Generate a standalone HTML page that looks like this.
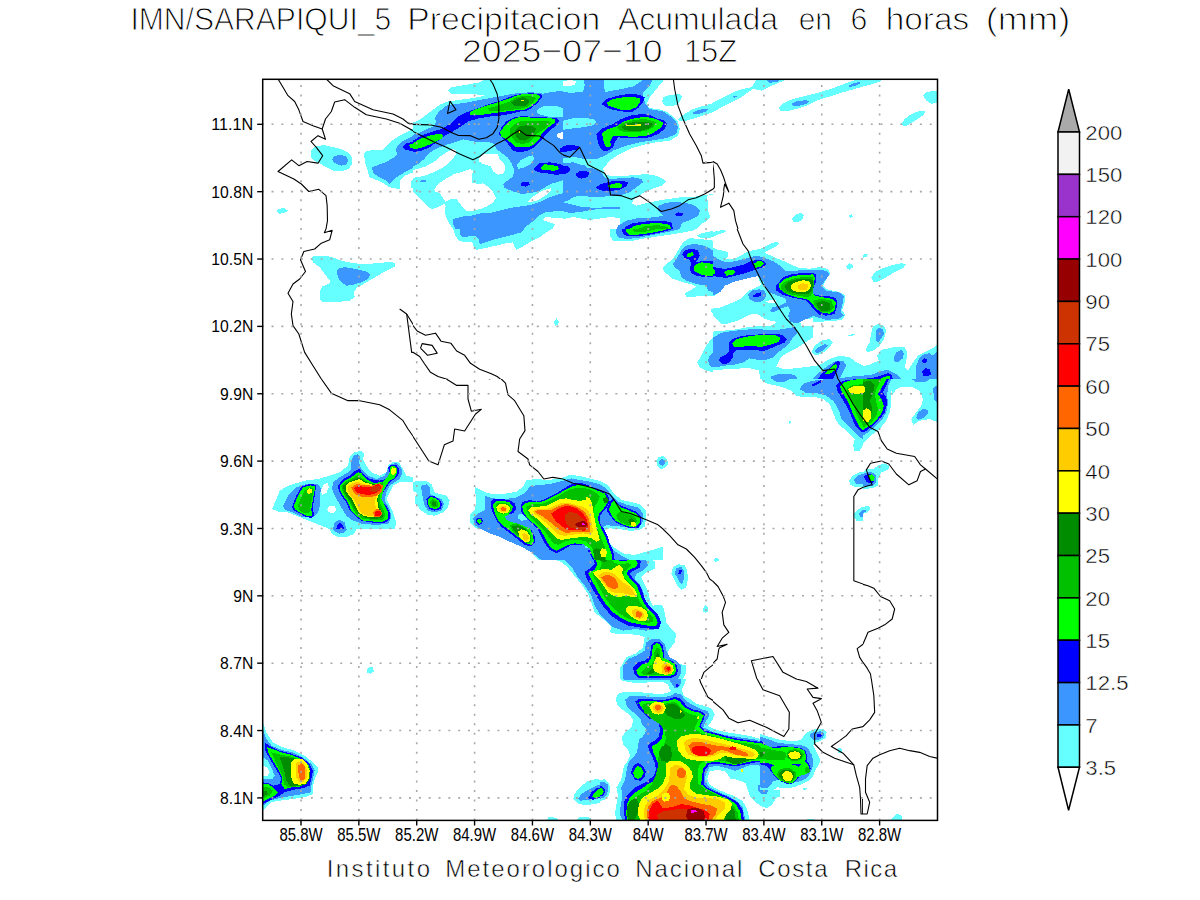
<!DOCTYPE html>
<html><head><meta charset="utf-8"><style>html,body{margin:0;padding:0;background:#fff;width:1200px;height:900px;overflow:hidden;font-family:"Liberation Sans",sans-serif}</style></head>
<body>
<svg width="1200" height="900" viewBox="0 0 1200 900" style="position:absolute;left:0;top:0">
<g font-family="Liberation Sans, sans-serif" font-size="32" fill="#000" stroke="#fff" stroke-width="1.0"><text x="130.42" y="30.3" textLength="260.84" lengthAdjust="spacingAndGlyphs">IMN/SARAPIQUI_5</text><text x="407.24" y="30.3" textLength="192.95" lengthAdjust="spacingAndGlyphs">Precipitacion</text><text x="617.94" y="30.3" textLength="160.06" lengthAdjust="spacingAndGlyphs">Acumulada</text><text x="798.73" y="30.3" textLength="33.21" lengthAdjust="spacingAndGlyphs">en</text><text x="850.46" y="30.3" textLength="16.87" lengthAdjust="spacingAndGlyphs">6</text><text x="885.68" y="30.3" textLength="83.52" lengthAdjust="spacingAndGlyphs">horas</text><text x="985.75" y="30.3" textLength="84.49" lengthAdjust="spacingAndGlyphs">(mm)</text></g>
<g font-family="Liberation Sans, sans-serif" font-size="32" fill="#000" stroke="#fff" stroke-width="1.0"><text x="461.95" y="62" textLength="200.69" lengthAdjust="spacingAndGlyphs">2025−07−10</text><text x="683.89" y="62" textLength="53.32" lengthAdjust="spacingAndGlyphs">15Z</text></g>
<g font-family="Liberation Sans, sans-serif" font-size="24" fill="#000" stroke="#fff" stroke-width="0.55"><text x="326.78" y="876.7" textLength="103.21" lengthAdjust="spacing">Instituto</text><text x="445.22" y="876.7" textLength="174.65" lengthAdjust="spacing">Meteorologico</text><text x="635.24" y="876.7" textLength="107.20" lengthAdjust="spacing">Nacional</text><text x="758.25" y="876.7" textLength="69.25" lengthAdjust="spacing">Costa</text><text x="844.64" y="876.7" textLength="52.56" lengthAdjust="spacing">Rica</text></g>
<g id="map"><clipPath id="fr"><rect x="262.7" y="79.3" width="674.8" height="741.1"/></clipPath>
<g clip-path="url(#fr)">
<defs><clipPath id="c0"><rect x="263" y="79" width="150" height="150"/></clipPath><clipPath id="c1"><rect x="413" y="79" width="150" height="150"/></clipPath><clipPath id="c2"><rect x="563" y="79" width="150" height="150"/></clipPath><clipPath id="c3"><rect x="713" y="79" width="150" height="150"/></clipPath><clipPath id="c4"><rect x="863" y="79" width="75" height="150"/></clipPath><clipPath id="c5"><rect x="263" y="229" width="150" height="150"/></clipPath><clipPath id="c6"><rect x="413" y="229" width="150" height="150"/></clipPath><clipPath id="c7"><rect x="563" y="229" width="150" height="150"/></clipPath><clipPath id="c8"><rect x="713" y="229" width="150" height="150"/></clipPath><clipPath id="c9"><rect x="863" y="229" width="75" height="150"/></clipPath><clipPath id="c10"><rect x="263" y="379" width="150" height="150"/></clipPath><clipPath id="c11"><rect x="413" y="379" width="150" height="150"/></clipPath><clipPath id="c12"><rect x="563" y="379" width="150" height="150"/></clipPath><clipPath id="c13"><rect x="713" y="379" width="150" height="150"/></clipPath><clipPath id="c14"><rect x="863" y="379" width="75" height="150"/></clipPath><clipPath id="c15"><rect x="263" y="529" width="150" height="150"/></clipPath><clipPath id="c16"><rect x="413" y="529" width="150" height="150"/></clipPath><clipPath id="c17"><rect x="563" y="529" width="150" height="150"/></clipPath><clipPath id="c18"><rect x="713" y="529" width="150" height="150"/></clipPath><clipPath id="c19"><rect x="863" y="529" width="75" height="150"/></clipPath><clipPath id="c20"><rect x="263" y="679" width="150" height="150"/></clipPath><clipPath id="c21"><rect x="413" y="679" width="150" height="150"/></clipPath><clipPath id="c22"><rect x="563" y="679" width="150" height="150"/></clipPath><clipPath id="c23"><rect x="713" y="679" width="150" height="150"/></clipPath><clipPath id="c24"><rect x="863" y="679" width="75" height="150"/></clipPath><clipPath id="c25"><rect x="463" y="460" width="200" height="100"/></clipPath><clipPath id="c26"><rect x="600" y="690" width="180" height="131"/></clipPath><clipPath id="c27"><rect x="760" y="710" width="80" height="80"/></clipPath></defs>
<g shape-rendering="crispEdges"><g clip-path="url(#c0)"><g transform="translate(263,79) scale(0.166667)"><polygon points="285,430 300,415 330,400 370,398 420,408 470,420 510,440 535,470 535,510 515,540 470,555 420,550 380,530 340,505 300,485 285,465" fill="#66ffff"/><polygon points="900,298 852,324 816,342 780,366 744,396 714,426 660,426 618,432 606,450 612,498 630,558 640,590 680,605 720,625 760,650 820,662 825,640 820,610 850,580 900,560" fill="#66ffff"/><polygon points="885,625 895,605 900,605 900,655 888,650" fill="#66ffff"/><polygon points="78,792 100,778 130,775 150,790 130,803 100,808" fill="#66ffff"/><polygon points="415,480 430,462 465,455 500,465 512,490 500,512 470,520 440,510 420,497" fill="#3c96ff"/><polygon points="654,528 690,516 738,498 780,474 804,450 798,420 810,396 840,372 876,354 900,342 900,534 852,558 804,588 768,618 756,630 732,606 696,588 660,564" fill="#3c96ff"/><polygon points="840,405 860,385 900,378 900,432 870,428 845,420" fill="#0000ff"/><polygon points="878,400 890,388 900,388 900,412 885,412" fill="#00ff00"/></g></g><g clip-path="url(#c1)"><g transform="translate(413,79) scale(0.166667)"><polygon points="0,0 900,0 900,900 0,900" fill="#66ffff"/><polygon points="0,0 440,0 400,20 300,38 230,50 212,70 230,88 300,92 380,92 430,100 360,115 280,125 210,135 160,155 120,185 80,215 40,245 0,262" fill="#ffffff"/><polygon points="0,547 75,525 128,495 165,465 200,440 240,420 262,430 255,455 240,480 203,517 150,547 98,570 38,589 0,592" fill="#ffffff"/><polygon points="128,664 150,630 195,600 248,570 300,555 345,540 360,548 353,585 356,623 390,630 420,626 450,645 480,675 499,713 480,743 443,765 405,780 360,791 323,791 300,773 278,743 263,720 225,720 195,735 180,713 165,690 135,675" fill="#ffffff"/><polygon points="0,675 22,698 52,728 75,750 98,773 120,780 158,765 188,750 195,765 191,803 203,840 225,878 240,900 0,900" fill="#ffffff"/><polygon points="398,473 420,450 510,450 518,480 548,510 555,540 540,570 510,574 480,555 465,525 420,510 398,495" fill="#ffffff"/><polygon points="690,735 720,705 780,668 825,656 832,668 795,698 750,728 705,739" fill="#ffffff"/><polygon points="0,335 48,318 84,300 120,285 140,260 132,234 156,192 180,180 200,160 260,150 330,140 420,122 500,108 580,92 650,82 720,80 780,88 820,80 900,70 900,608 825,630 788,653 750,675 713,683 653,690 600,675 548,653 540,630 570,608 600,585 608,548 593,510 570,473 540,450 500,420 490,390 450,378 400,380 350,372 300,362 250,380 200,395 160,410 120,430 90,450 68,480 30,510 0,525" fill="#3c96ff"/><polygon points="240,840 300,825 360,818 420,803 462,804 582,774 702,756 762,738 822,708 882,690 900,684 900,793 882,792 798,798 762,816 714,858 660,900 255,900 240,870" fill="#3c96ff"/><polygon points="38,612 60,606 83,610 78,620 45,621" fill="#3c96ff"/><polygon points="774,846 798,828 852,834 900,834 900,900 836,900 852,870" fill="#ffffff"/><polygon points="860,330 890,320 900,320 900,360 870,355" fill="#ffffff"/><polygon points="623,518 645,488 690,465 720,458 728,480 705,510 660,533 630,540" fill="#66ffff"/><polygon points="745,185 780,165 830,160 870,165 900,175 900,225 860,230 810,225 770,215 745,205" fill="#66ffff"/><polygon points="0,370 50,340 110,318 170,300 230,265 270,225 320,200 390,175 460,150 530,128 600,100 660,88 720,86 770,92 775,110 745,145 710,175 680,190 640,195 580,210 520,220 460,225 400,235 330,255 280,290 230,320 190,340 140,380 100,410 50,430 0,440" fill="#0000ff"/><polygon points="515,330 530,290 560,255 600,232 660,222 720,228 790,230 860,235 878,250 860,280 830,300 800,330 770,370 730,410 690,430 640,440 600,430 570,390 540,360" fill="#0000ff"/><polygon points="720,540 760,505 820,500 880,510 900,520 900,570 860,575 800,565 750,560" fill="#0000ff"/><polygon points="645,630 665,615 695,615 700,635 675,645 650,642" fill="#0000ff"/><polygon points="880,420 900,405 900,440 885,440" fill="#0000ff"/><polygon points="0,385 40,360 100,340 150,330 185,335 170,360 120,385 60,410 20,420 0,420" fill="#00ff00"/><polygon points="340,200 380,180 440,160 510,140 570,120 620,100 660,90 740,92 765,105 740,140 700,170 670,185 600,190 520,200 450,210 390,218 345,218" fill="#00ff00"/><polygon points="520,320 550,280 590,245 640,228 720,232 800,232 850,240 855,260 820,285 790,310 770,330 760,360 730,390 700,405 650,410 610,405 585,380 560,360 530,345" fill="#00ff00"/><polygon points="765,530 790,512 830,515 870,525 875,540 850,550 800,548 770,542" fill="#00ff00"/><polygon points="450,175 510,160 580,135 620,110 660,100 700,100 740,115 720,140 690,165 640,180 580,185 520,192 460,195" fill="#00c000"/><polygon points="580,300 610,270 650,252 720,250 790,250 830,258 810,280 780,305 740,330 720,360 690,385 650,390 615,380 595,350 580,325" fill="#00c000"/><polygon points="590,140 620,120 660,110 690,120 700,140 680,160 640,165 605,160" fill="#008c00"/><polygon points="610,310 640,285 680,278 720,285 740,300 720,330 700,355 670,370 640,365 620,345" fill="#008c00"/><polygon points="645,124 667,124 667,133 645,133" fill="#ffff00"/><polygon points="635,308 643,308 643,323 635,323" fill="#ffff00"/></g></g><g clip-path="url(#c2)"><g transform="translate(563,79) scale(0.166667)"><polygon points="0,0 900,0 900,900 0,900" fill="#66ffff"/><polygon points="0,15 40,5 80,12 70,35 30,45 0,40" fill="#ffffff"/><polygon points="610,0 560,60 520,110 500,150 520,175 570,180 620,195 660,225 690,255 700,300 690,340 640,370 560,380 480,395 400,420 330,455 280,490 240,540 255,575 300,585 380,580 450,575 500,570 560,580 600,600 620,615 590,640 520,665 470,690 430,720 410,745 440,760 520,740 600,725 700,710 800,705 860,695 900,690 900,0" fill="#ffffff"/><polygon points="0,840 60,828 162,846 282,828 345,835 340,900 0,900" fill="#ffffff"/><polygon points="600,110 640,95 700,90 715,110 690,150 650,165 610,160 595,135" fill="#66ffff"/><polygon points="690,240 720,215 770,185 830,165 900,145 900,200 850,215 790,235 740,250 700,255" fill="#66ffff"/><polygon points="775,205 800,190 840,180 870,178 860,195 820,208 785,212" fill="#3c96ff"/><polygon points="0,80 60,82 120,78 130,40 126,0 246,0 250,78 342,62 422,44 470,12 480,0 540,0 520,40 480,80 480,110 495,150 520,180 600,195 640,220 675,250 690,290 680,330 620,355 540,368 460,380 380,400 300,430 250,460 200,480 130,480 80,470 40,470 0,475" fill="#3c96ff"/><polygon points="0,250 60,235 120,232 180,240 205,258 175,280 100,292 30,300 0,305" fill="#66ffff"/><polygon points="0,505 60,500 110,515 150,520 200,545 230,560 250,590 290,600 350,595 420,590 470,600 480,620 440,650 400,680 340,700 250,705 150,705 100,700 60,710 30,730 0,740" fill="#3c96ff"/><polygon points="110,500 170,495 230,510 250,535 200,540 140,530" fill="#66ffff"/><polygon points="0,740 40,750 100,765 200,775 280,765 340,770 345,780 282,780 222,780 162,786 102,798 42,804 0,793" fill="#3c96ff"/><polygon points="866,700 900,695 900,900 800,900 822,876 852,858 882,828 870,786" fill="#ffffff"/><polygon points="570,762 620,742 684,738 760,748 800,765 822,790 810,822 762,846 714,864 702,900 320,900 330,880 380,850 450,835 550,830 600,820 570,790" fill="#3c96ff"/><polygon points="330,880 380,850 450,835 550,830 620,835 680,860 700,900 320,900" fill="#3c96ff"/><polygon points="230,150 260,120 330,100 400,88 460,95 490,110 480,140 450,175 420,195 360,195 300,185 260,170" fill="#0000ff"/><polygon points="200,330 230,300 300,270 350,240 400,220 470,210 520,215 560,235 610,250 625,270 610,300 570,330 520,350 460,355 380,355 330,350 310,380 300,410 270,430 240,430 215,400 205,360" fill="#0000ff"/><polygon points="0,400 40,398 100,400 95,420 40,432 0,440" fill="#0000ff"/><polygon points="0,520 30,525 45,545 30,565 0,570" fill="#0000ff"/><polygon points="75,570 100,552 140,550 160,565 145,590 110,598 85,590" fill="#0000ff"/><polygon points="195,650 230,630 290,615 350,610 390,620 380,645 340,665 280,672 220,668" fill="#0000ff"/><polygon points="670,812 690,800 720,805 715,820 690,825" fill="#0000ff"/><polygon points="370,890 420,865 500,855 600,850 650,860 660,900 370,900" fill="#0000ff"/><polygon points="265,140 300,120 360,110 420,108 460,115 460,140 440,170 400,185 350,185 300,170 270,160" fill="#00ff00"/><polygon points="230,330 260,305 320,285 360,258 420,238 480,228 530,232 570,245 605,262 590,290 555,315 510,338 450,345 390,345 340,340 300,345 280,380 260,400 245,385 240,350" fill="#00ff00"/><polygon points="250,395 260,380 280,378 290,395 280,410 260,410" fill="#00ff00"/><polygon points="270,640 300,628 340,625 360,635 345,652 300,655 275,652" fill="#00ff00"/><polygon points="400,900 430,880 500,868 580,865 640,875 650,900" fill="#00ff00"/><polygon points="320,290 360,265 420,248 480,240 520,245 560,262 540,290 500,310 440,320 380,320 340,310" fill="#00c000"/><polygon points="450,900 500,880 580,878 630,890 630,900" fill="#00c000"/><polygon points="350,290 380,268 440,255 500,255 540,270 520,295 470,310 410,312 370,305" fill="#008c00"/><polygon points="380,275 470,272 470,282 380,285" fill="#ffff00"/></g></g><g clip-path="url(#c3)"><g transform="translate(713,79) scale(0.166667)"><polygon points="0,140 60,110 120,80 180,60 230,50 250,20 270,0 450,0 400,20 330,50 290,70 240,60 210,80 170,110 110,140 50,170 0,200" fill="#66ffff"/><polygon points="395,170 420,145 480,120 560,100 640,80 720,55 800,25 860,5 900,0 900,45 850,60 780,80 700,105 620,130 560,160 500,180 440,195 405,190" fill="#66ffff"/><polygon points="475,835 500,810 530,805 545,820 535,845 505,860 478,855" fill="#66ffff"/><polygon points="810,815 835,812 838,825 825,832" fill="#66ffff"/><polygon points="120,105 140,100 145,108 125,112" fill="#3c96ff"/><polygon points="320,10 350,5 400,5 390,18 340,22" fill="#3c96ff"/><polygon points="470,150 500,135 550,128 580,130 560,150 520,160 480,160" fill="#3c96ff"/><polygon points="815,40 850,22 880,20 880,30 850,42 820,47" fill="#3c96ff"/></g></g><g clip-path="url(#c4)"><g transform="translate(863,79) scale(0.166667)"><polygon points="0,0 125,0 100,15 40,35 0,45" fill="#66ffff"/><polygon points="360,100 380,80 420,72 450,70 450,145 410,148 380,130" fill="#66ffff"/><polygon points="228,270 250,240 290,210 340,190 375,192 365,215 320,245 280,270 250,285" fill="#66ffff"/></g></g><g clip-path="url(#c5)"><g transform="translate(263,229) scale(0.166667)"><polygon points="285,175 310,160 370,160 420,170 470,190 540,205 600,210 700,205 760,195 795,205 790,225 740,250 680,285 620,320 560,355 545,380 550,410 520,430 430,440 360,440 340,420 340,380 355,345 395,330 405,315 370,270 340,230 300,200" fill="#66ffff"/><polygon points="440,250 460,232 500,230 560,240 620,255 645,275 630,300 590,320 540,335 500,340 470,320 450,290" fill="#3c96ff"/></g></g><g clip-path="url(#c6)"><g transform="translate(413,229) scale(0.166667)"><polygon points="240,0 830,0 800,20 760,50 700,80 650,110 620,125 605,100 600,80 560,85 500,100 430,115 380,125 360,100 355,75 310,80 275,70 255,40" fill="#66ffff"/><polygon points="280,0 670,0 650,20 600,35 540,50 480,65 420,85 400,90 395,60 375,40 330,45 300,50 285,35" fill="#3c96ff"/><polygon points="845,560 860,535 875,555 870,575 855,580" fill="#66ffff"/></g></g><g clip-path="url(#c7)"><g transform="translate(563,229) scale(0.166667)"><polygon points="280,0 800,0 780,10 700,25 600,40 500,55 420,70 350,75 300,70 280,40" fill="#66ffff"/><polygon points="320,0 700,0 620,20 520,40 440,55 380,60 330,50 320,25" fill="#3c96ff"/><polygon points="355,0 660,0 620,12 540,30 460,42 400,45 365,35 355,15" fill="#0000ff"/><polygon points="375,0 630,0 600,10 520,25 440,35 400,35 380,20" fill="#00ff00"/><polygon points="420,0 560,0 520,12 460,20 425,15" fill="#00c000"/><polygon points="805,40 830,25 880,15 900,12 900,50 850,55 815,50" fill="#66ffff"/><polygon points="600,230 620,210 660,180 690,130 720,80 760,55 820,60 860,65 900,70 900,400 860,400 800,405 740,405 730,385 760,370 800,345 780,335 720,320 660,300 630,275 605,255" fill="#66ffff"/><polygon points="660,210 680,180 710,130 740,100 780,90 830,95 870,110 900,130 900,380 870,370 860,340 800,330 740,310 710,290 700,250 670,230" fill="#3c96ff"/><polygon points="715,150 735,125 780,120 810,130 820,160 810,180 800,195 820,195 860,190 900,195 900,290 860,290 800,280 770,265 760,240 770,210 760,185 730,175" fill="#0000ff"/><polygon points="740,155 755,142 780,140 785,155 770,165 745,165" fill="#00ff00"/><polygon points="785,230 800,210 830,200 870,205 900,210 900,280 860,282 820,270 790,255" fill="#00ff00"/><polygon points="885,490 895,478 900,478 900,505 890,500" fill="#66ffff"/><polygon points="805,800 830,760 860,700 890,660 900,650 900,860 860,850 820,830" fill="#66ffff"/><polygon points="870,790 880,760 900,740 900,830 880,820" fill="#3c96ff"/></g></g><g clip-path="url(#c8)"><g transform="translate(713,229) scale(0.166667)"><polygon points="0,20 27,10 73,7 80,17 40,30 0,47" fill="#66ffff"/><polygon points="0,113 27,123 87,137 93,157 77,183 120,180 167,160 200,140 240,127 280,120 320,100 373,77 400,83 373,107 320,133 307,143 333,153 373,173 427,193 470,215 520,235 580,238 640,228 690,240 705,265 680,300 660,340 690,365 760,378 795,400 790,440 775,490 795,515 775,545 720,552 650,556 600,560 600,650 552,682 508,711 450,740 407,769 378,827 436,842 508,834 567,827 620,820 650,810 700,780 760,760 820,770 860,800 900,820 900,900 0,900" fill="#66ffff"/><polygon points="590,740 610,700 650,670 700,660 720,680 690,720 650,750 610,760" fill="#66ffff"/><polygon points="800,225 815,205 835,210 840,230 820,245 805,240" fill="#66ffff"/><polygon points="812,638 830,632 850,633 840,640 815,642" fill="#66ffff"/><polygon points="0,406 44,377 73,340 116,319 174,304 232,290 269,282 276,304 291,333 254,355 218,369 196,391 174,413 131,435 80,457 44,471 0,471" fill="#ffffff"/><polygon points="0,522 29,551 58,573 94,566 145,551 203,522 247,507 276,515 305,537 349,551 385,558 349,580 291,580 218,587 145,602 73,609 29,609 0,616" fill="#ffffff"/><polygon points="320,435 345,424 378,424 378,440 340,446" fill="#ffffff"/><polygon points="0,849 73,842 145,838 218,834 276,849 283,900 0,900" fill="#ffffff"/><polygon points="523,560 545,540 600,536 600,580 560,585 530,580" fill="#ffffff"/><polygon points="0,160 40,187 80,200 133,193 187,180 227,167 267,160 307,173 360,193 393,213 420,240 436,253 500,250 560,245 620,245 680,250 700,270 680,300 650,340 680,370 760,382 785,405 775,460 765,500 785,520 750,540 680,545 600,522 538,551 508,566 465,558 450,522 465,486 450,464 407,478 363,500 341,493 356,471 407,457 436,442 436,420 407,406 363,391 334,377 312,348 305,320 290,300 269,282 232,290 174,304 116,319 73,340 44,377 0,399" fill="#3c96ff"/><polygon points="211,391 232,369 276,362 305,369 320,391 312,420 291,435 254,438 218,420" fill="#3c96ff"/><polygon points="0,653 44,624 87,616 145,609 218,602 291,602 363,609 407,602 450,595 494,587 508,624 479,653 450,696 392,740 363,769 320,784 262,784 218,776 189,798 131,813 73,820 29,827 0,827" fill="#3c96ff"/><polygon points="349,885 392,871 450,867 494,878 508,900 349,900" fill="#3c96ff"/><polygon points="610,735 630,710 670,690 690,700 660,730 625,745" fill="#3c96ff"/><polygon points="600,900 640,860 690,820 740,790 780,790 800,820 780,860 760,900" fill="#3c96ff"/><polygon points="742,900 822,886 900,879 900,900" fill="#3c96ff"/><polygon points="0,227 67,240 133,227 187,213 227,193 253,187 293,187 320,207 307,227 267,240 227,253 187,267 133,280 80,293 27,287 0,280" fill="#0000ff"/><polygon points="240,400 262,385 290,380 290,400 262,410 242,408" fill="#0000ff"/><polygon points="94,682 116,660 174,642 232,635 305,631 378,627 421,638 443,660 429,682 392,696 341,718 305,733 247,725 189,725 145,725 123,747 116,776 94,805 58,813 36,791 44,769 73,755 94,740 94,711" fill="#0000ff"/><polygon points="380,340 420,290 480,270 560,262 600,265 620,275 620,310 600,360 600,390 640,400 700,405 740,415 745,460 730,510 680,520 640,515 600,480 580,450 560,430 520,420 470,410 420,395 380,370" fill="#0000ff"/><polygon points="630,900 650,870 690,840 720,810 750,790 765,800 750,840 730,880 720,900" fill="#0000ff"/><polygon points="67,260 87,247 120,245 133,255 120,275 80,280" fill="#00ff00"/><polygon points="247,207 267,193 293,193 307,207 287,227 253,233" fill="#00ff00"/><polygon points="0,240 13,247 13,267 0,273" fill="#00ff00"/><polygon points="116,682 145,660 203,646 262,638 320,637 378,638 403,653 396,675 363,689 320,700 291,707 247,704 196,704 145,711 120,704" fill="#00ff00"/><polygon points="395,330 430,300 490,280 560,275 600,272 612,290 605,330 595,380 610,400 660,410 720,420 738,440 728,490 700,508 660,505 620,480 590,440 560,420 500,410 440,390 400,360" fill="#00ff00"/><polygon points="670,870 690,845 720,820 740,810 745,830 730,850 700,870" fill="#00ff00"/><polygon points="407,340 436,315 487,297 552,286 600,290 605,330 600,380 585,400 567,409 523,402 472,395 429,380 410,362" fill="#00c000"/><polygon points="600,430 650,418 710,430 725,470 700,500 650,500 615,470" fill="#00c000"/><polygon points="429,340 450,319 494,304 538,297 581,300 600,310 595,370 567,392 523,391 479,384 443,369" fill="#008c00"/><polygon points="620,445 660,432 700,445 705,480 680,495 650,490 630,470" fill="#008c00"/><polygon points="465,340 494,319 538,308 574,311 588,333 581,362 552,377 508,377 479,369 465,355" fill="#ffff00"/><polygon points="508,340 538,326 567,330 574,348 559,366 530,369 512,359" fill="#ffcc00"/></g></g><g clip-path="url(#c9)"><g transform="translate(863,229) scale(0.166667)"><polygon points="0,160 15,148 28,150 25,165 0,172" fill="#66ffff"/><polygon points="50,290 70,260 120,235 180,215 230,205 262,210 240,235 180,265 130,295 90,315 60,315" fill="#66ffff"/><polygon points="15,725 40,680 50,620 60,585 90,568 125,580 140,610 125,660 100,700 60,730 25,740" fill="#66ffff"/><polygon points="75,660 80,610 95,592 120,600 125,630 100,670 85,682" fill="#3c96ff"/><polygon points="0,822 34,816 70,800 95,790 85,760 110,725 160,715 200,705 250,710 265,740 260,790 250,830 270,850 300,800 330,760 370,740 410,720 440,700 450,690 450,900 0,900" fill="#66ffff"/><polygon points="185,770 200,740 230,725 245,745 240,775 215,795 190,795" fill="#3c96ff"/><polygon points="320,820 340,770 370,750 400,745 420,760 440,740 450,740 450,900 320,900" fill="#3c96ff"/><polygon points="0,880 62,872 100,855 146,844 174,858 200,870 230,900 0,900" fill="#3c96ff"/><polygon points="0,900 62,893 120,875 153,865 170,872 180,900" fill="#0000ff"/><polygon points="100,900 130,888 146,879 160,885 165,900" fill="#00ff00"/><polygon points="355,790 370,775 385,785 380,805 360,805" fill="#0000ff"/><polygon points="355,855 375,835 400,840 410,870 390,885 360,880" fill="#0000ff"/></g></g><g clip-path="url(#c10)"><g transform="translate(263,379) scale(0.166667)"><polygon points="55,780 80,720 100,670 150,640 250,610 330,600 400,580 460,560 510,520 520,470 550,440 590,430 610,450 600,480 620,520 650,560 700,580 740,560 750,520 780,495 815,500 840,540 860,580 900,590 900,615 870,615 820,620 780,640 760,680 740,720 760,760 780,800 800,860 790,900 400,900 350,880 300,860 250,840 200,820 150,800 100,800" fill="#66ffff"/><polygon points="345,670 360,640 385,620 395,650 380,685 355,695" fill="#ffffff"/><polygon points="385,780 400,760 430,760 440,785 420,805 395,800" fill="#ffffff"/><polygon points="120,760 150,700 200,650 260,630 330,630 350,660 340,700 345,750 330,800 300,830 240,830 180,800 130,785" fill="#3c96ff"/><polygon points="420,620 460,590 510,560 530,540 530,490 545,460 570,450 585,470 575,500 590,540 630,580 680,600 730,580 750,540 770,510 800,505 830,530 835,570 820,600 790,620 760,640 740,680 730,730 760,780 770,830 750,870 680,875 600,870 540,850 500,820 470,770 430,700 415,660" fill="#3c96ff"/><polygon points="420,900 430,860 460,845 490,860 500,900" fill="#3c96ff"/><polygon points="175,765 200,700 230,645 280,630 320,635 310,700 300,760 305,820 290,835 250,825 210,800 180,785" fill="#0000ff"/><polygon points="450,640 480,600 520,580 560,545 580,540 600,570 640,600 700,610 740,600 760,560 750,530 770,515 800,515 815,540 815,570 790,600 760,620 720,680 700,720 740,760 760,800 760,840 740,860 700,865 640,860 590,850 550,820 520,790 500,740 470,700 455,670" fill="#0000ff"/><polygon points="440,900 450,870 465,865 480,880 490,900" fill="#0000ff"/><polygon points="185,760 210,700 240,650 285,638 315,645 300,720 290,780 295,825 260,820 210,795 190,780" fill="#00ff00"/><polygon points="210,760 230,710 250,670 285,650 305,660 290,740 280,800 250,805 220,790" fill="#00c000"/><polygon points="262,670 275,655 292,660 295,680 280,690 265,685" fill="#ffff00"/><polygon points="460,640 490,610 530,590 570,560 590,565 620,600 670,625 720,615 745,590 760,560 760,530 780,520 800,530 805,560 790,595 760,610 740,640 720,680 710,720 730,760 750,800 750,840 720,855 660,855 600,850 560,820 530,790 510,740 480,700 465,670" fill="#00ff00"/><polygon points="470,640 500,615 540,595 570,575 600,600 640,625 690,630 720,620 715,660 700,700 700,740 720,780 735,820 720,845 660,845 600,840 560,810 540,780 520,740 490,700 475,670" fill="#00c000"/><polygon points="480,640 510,620 550,600 575,590 600,610 640,630 700,635 705,665 690,710 695,760 715,800 720,830 680,840 620,835 575,810 550,780 530,740 500,700 485,670" fill="#008c00"/><polygon points="495,640 520,620 560,605 580,600 610,620 660,635 700,635 700,680 685,720 690,770 710,810 700,830 650,830 600,820 570,795 555,760 535,720 510,690 495,665" fill="#ffff00"/><polygon points="765,550 775,530 795,535 800,555 785,575 770,572" fill="#ffff00"/><polygon points="510,645 540,625 570,615 600,630 650,645 690,650 680,700 670,740 680,780 700,810 680,825 630,822 590,805 570,770 550,730 525,700 510,670" fill="#ffcc00"/><polygon points="530,650 560,630 600,635 650,640 700,625 720,640 710,680 680,700 640,710 600,710 560,695 540,675" fill="#ff6600"/><polygon points="545,655 570,640 610,648 650,650 690,630 710,645 700,670 670,690 630,695 590,690 560,680" fill="#ff0000"/><polygon points="640,660 670,640 700,640 705,660 680,680 650,680" fill="#cc3300"/><polygon points="660,800 680,780 705,785 715,810 700,830 670,828" fill="#ff6600"/><polygon points="670,805 685,790 705,795 710,815 690,825 672,820" fill="#ff0000"/></g></g><g clip-path="url(#c11)"><g transform="translate(413,379) scale(0.166667)"><polygon points="0,620 30,610 80,612 110,630 130,680 160,690 200,700 220,730 210,770 180,800 130,820 90,815 50,790 15,750 10,710 30,690 0,670" fill="#66ffff"/><polygon points="50,640 80,632 100,650 105,690 140,710 170,720 185,750 170,790 130,800 90,790 70,760 60,720 55,690 50,660" fill="#3c96ff"/><polygon points="80,720 100,700 130,705 160,725 175,750 165,780 130,790 100,780 85,750" fill="#0000ff"/><polygon points="88,725 105,710 130,712 155,730 165,755 155,775 125,780 100,770 90,750" fill="#00ff00"/><polygon points="100,735 115,720 135,725 150,745 150,765 130,772 108,762" fill="#00c000"/><polygon points="110,745 125,733 140,745 140,760 125,765" fill="#008c00"/><polygon points="370,650 400,645 450,665 500,680 550,690 600,680 650,670 680,640 700,610 750,600 800,610 850,605 900,600 900,900 360,900 340,860 350,800 390,790 420,770 430,740 410,700" fill="#66ffff"/><polygon points="430,700 460,690 500,700 560,710 600,705 650,700 690,690 720,670 740,650 800,640 850,630 900,620 900,900 380,900 365,860 370,830 400,820 440,800 450,760 440,730" fill="#3c96ff"/><polygon points="460,730 490,720 540,730 590,740 620,755 640,740 680,720 720,710 770,700 800,690 840,670 880,660 900,650 900,900 560,900 540,870 500,830 480,800 465,770" fill="#0000ff"/><polygon points="375,850 390,830 410,830 425,850 415,870 390,875" fill="#0000ff"/><polygon points="382,850 395,838 410,840 418,855 405,868 390,868" fill="#00ff00"/><polygon points="470,745 490,730 540,735 580,745 610,770 600,810 580,830 600,850 640,870 680,880 700,900 560,900 540,870 510,840 490,810 475,780" fill="#00ff00"/><polygon points="650,770 680,740 720,725 760,720 800,705 840,690 880,680 900,675 900,900 720,900 700,870 690,840 670,810 655,790" fill="#00ff00"/><polygon points="630,810 650,805 690,830 700,855 680,858 645,835" fill="#66ffff"/><polygon points="480,760 500,745 540,745 575,760 590,790 570,805 530,800 500,790" fill="#00c000"/><polygon points="495,770 515,752 545,750 575,765 585,785 560,800 525,800 505,790" fill="#ffff00"/><polygon points="510,775 525,760 550,760 570,775 565,790 540,795 520,788" fill="#ffcc00"/><polygon points="525,775 540,765 560,772 555,785 535,785" fill="#ff6600"/><polygon points="665,790 690,760 730,740 780,730 820,715 860,700 900,690 900,900 760,900 720,870 700,840 680,815" fill="#00c000"/><polygon points="680,790 700,770 740,755 790,745 830,730 870,715 900,710 900,900 790,900 760,880 730,860 700,830 690,810" fill="#ffff00"/><polygon points="700,800 730,780 780,770 830,760 870,740 900,735 900,900 820,900 790,880 750,850 720,830" fill="#ffcc00"/><polygon points="740,810 780,795 830,790 870,770 900,760 900,900 860,900 820,880 780,850 750,830" fill="#ff6600"/><polygon points="820,830 860,800 900,790 900,900 880,900 850,870 825,850" fill="#ff0000"/><polygon points="600,900 630,880 670,890 690,900" fill="#00c000"/></g></g><g clip-path="url(#c12)"><g transform="translate(563,379) scale(0.166667)"><polygon points="560,490 575,468 600,462 625,480 630,510 610,535 585,540 565,520" fill="#66ffff"/><polygon points="575,495 590,480 610,485 615,505 600,520 580,515" fill="#3c96ff"/><polygon points="0,600 30,580 60,575 100,580 150,600 200,610 250,630 280,670 310,710 340,740 380,745 410,735 440,750 470,780 490,820 490,870 480,900 0,900" fill="#66ffff"/><polygon points="0,620 40,598 80,595 120,605 170,620 230,640 265,670 300,720 330,760 370,770 410,765 440,785 465,820 475,870 470,900 0,900" fill="#3c96ff"/><polygon points="0,660 30,640 60,615 100,612 150,625 200,640 240,665 280,700 310,750 340,790 380,800 420,810 450,830 465,870 460,900 0,900" fill="#0000ff"/><polygon points="0,685 40,650 70,630 120,635 160,650 175,668 200,680 230,670 260,690 290,720 320,770 345,800 390,815 430,825 455,850 460,880 450,900 0,900" fill="#00ff00"/><polygon points="225,830 250,795 285,785 320,800 330,830 320,850 300,870 290,900 230,900" fill="#0000ff"/><polygon points="240,850 260,815 290,810 310,830 300,860 280,880 270,900 245,900" fill="#3c96ff"/><polygon points="255,870 275,850 290,860 280,885 265,890" fill="#66ffff"/><polygon points="0,720 50,680 90,660 120,690 140,720 180,730 210,710 240,720 270,750 290,790 260,790 240,800 220,830 210,900 0,900" fill="#00c000"/><polygon points="340,830 370,830 410,838 445,858 452,900 340,900" fill="#00c000"/><polygon points="180,740 210,730 240,745 250,780 230,800 210,820 200,860 200,900 170,900 170,840 180,800" fill="#008c00"/><polygon points="230,700 250,690 275,710 270,735 250,740" fill="#008c00"/><polygon points="370,850 400,840 440,855 450,880 430,895 390,890" fill="#008c00"/><polygon points="0,740 40,720 80,710 130,715 160,730 180,760 190,800 185,850 180,900 0,900" fill="#ffff00"/><polygon points="405,870 420,858 440,865 440,882 425,890 408,882" fill="#ffff00"/><polygon points="0,760 40,745 80,740 120,750 150,770 165,810 165,860 160,900 0,900" fill="#ffcc00"/><polygon points="0,780 40,770 80,770 110,790 130,830 140,880 140,900 0,900" fill="#ff6600"/><polygon points="0,800 30,790 60,800 90,820 110,850 120,900 0,900" fill="#ff0000"/><polygon points="10,820 40,810 70,830 100,855 115,900 20,900 10,860" fill="#cc3300"/><polygon points="80,860 110,850 140,860 140,880 110,885 85,880" fill="#960000"/><polygon points="118,868 128,866 130,874 120,876" fill="#ff00ff"/></g></g><g clip-path="url(#c13)"><g transform="translate(713,379) scale(0.166667)"><polygon points="290,0 900,0 900,400 880,430 850,435 840,400 850,360 820,330 790,300 760,280 740,250 720,200 700,150 660,120 600,105 540,110 500,100 470,70 420,50 380,40 330,30 300,15" fill="#66ffff"/><polygon points="355,0 460,0 430,15 380,18" fill="#3c96ff"/><polygon points="520,60 540,30 580,15 630,5 700,0 900,0 900,360 880,350 860,330 830,300 800,270 770,240 760,200 740,160 720,130 680,100 620,85 560,85" fill="#3c96ff"/><polygon points="590,35 620,20 650,5 660,15 620,35 600,45" fill="#0000ff"/><polygon points="740,40 760,20 800,5 900,0 900,320 880,310 860,290 840,250 820,200 800,160 770,110 745,70" fill="#0000ff"/><polygon points="760,45 790,20 830,5 900,0 900,310 880,290 860,250 840,210 820,160 800,120 775,80" fill="#00ff00"/><polygon points="800,60 830,40 900,30 900,280 880,250 860,210 845,160 820,110" fill="#00c000"/><polygon points="810,60 840,45 900,40 900,85 860,90 820,80" fill="#ffff00"/><polygon points="815,610 840,580 880,560 900,555 900,650 860,650 825,635" fill="#66ffff"/><polygon points="845,605 870,580 900,570 900,630 860,630" fill="#3c96ff"/><polygon points="840,820 860,790 890,770 900,765 900,850 860,850" fill="#66ffff"/><polygon points="875,810 890,790 900,785 900,825 885,825" fill="#3c96ff"/><polygon points="455,265 460,250 467,255 462,272" fill="#66ffff"/></g></g><g clip-path="url(#c14)"><g transform="translate(863,379) scale(0.166667)"><polygon points="0,0 190,0 170,40 165,100 170,150 160,200 140,250 100,300 60,330 20,370 0,390" fill="#66ffff"/><polygon points="0,0 170,0 150,40 145,100 150,150 140,200 110,250 70,290 30,320 0,340" fill="#3c96ff"/><polygon points="0,0 155,0 140,40 120,80 140,110 145,150 130,200 100,240 60,280 20,310 0,320" fill="#0000ff"/><polygon points="0,0 140,0 120,40 90,90 110,120 125,160 115,200 85,240 50,275 10,300 0,305" fill="#00ff00"/><polygon points="0,0 110,0 90,40 70,90 80,140 90,180 80,220 50,260 10,285 0,290" fill="#00c000"/><polygon points="0,20 40,10 70,40 60,90 40,130 55,170 50,210 30,240 0,250" fill="#008c00"/><polygon points="0,40 15,50 10,80 0,90" fill="#ffff00"/><polygon points="0,190 20,175 45,190 50,230 30,260 0,250" fill="#ffff00"/><polygon points="170,0 450,0 450,260 400,240 340,250 300,275 290,240 320,200 350,160 360,120 340,70 300,50 240,45 200,60 175,100 170,60" fill="#66ffff"/><polygon points="290,0 400,0 380,15 320,20" fill="#3c96ff"/><polygon points="320,230 330,200 360,180 390,185 390,210 360,235 330,245" fill="#3c96ff"/><polygon points="420,60 440,40 450,40 450,150 430,130" fill="#3c96ff"/><polygon points="0,560 20,540 60,540 90,520 130,505 160,520 150,545 110,560 90,600 90,640 60,655 0,660" fill="#66ffff"/><polygon points="0,570 25,560 55,560 80,580 80,620 60,640 0,640" fill="#3c96ff"/><polygon points="5,585 30,570 60,575 70,600 60,625 20,620" fill="#0000ff"/><polygon points="30,580 50,572 70,590 65,610 45,612" fill="#00ff00"/><polygon points="0,770 30,760 45,775 30,800 0,810" fill="#66ffff"/><polygon points="0,790 15,785 20,795 0,805" fill="#3c96ff"/></g></g><g clip-path="url(#c15)"><g transform="translate(263,529) scale(0.166667)"><polygon points="400,0 560,0 545,30 500,50 450,50 415,30" fill="#66ffff"/><polygon points="420,0 505,0 490,20 460,28 430,15" fill="#3c96ff"/><polygon points="620,845 640,825 660,830 665,855 645,868 625,862" fill="#66ffff"/></g></g><g clip-path="url(#c16)"><g transform="translate(413,529) scale(0.166667)"><polygon points="380,0 410,0 405,5 385,5" fill="#66ffff"/><polygon points="369,0 900,0 900,203 833,176 780,144 727,133 673,106 620,74 566,37 514,11 460,3" fill="#66ffff"/><polygon points="522,0 900,0 900,160 863,155 821,133 789,101 752,91 725,112 671,101 618,64 575,26" fill="#3c96ff"/><polygon points="570,0 740,0 740,50 720,90 700,100 670,90 620,50" fill="#0000ff"/><polygon points="780,0 900,0 900,155 870,140 850,100 830,60 800,40 780,20" fill="#0000ff"/><polygon points="590,0 720,0 730,40 715,80 690,88 660,70 620,35" fill="#00ff00"/><polygon points="800,0 900,0 900,140 880,120 860,80 840,50 810,30" fill="#00ff00"/><polygon points="610,0 700,0 715,40 700,70 680,75 650,55" fill="#00c000"/><polygon points="830,0 900,0 900,110 880,80 860,40" fill="#00c000"/><polygon points="630,0 690,0 705,30 695,60 670,65 645,40" fill="#ffff00"/><polygon points="870,0 900,0 900,40 885,25" fill="#ffff00"/><polygon points="665,25 685,20 700,40 690,58 670,55" fill="#ffcc00"/></g></g><g clip-path="url(#c17)"><g transform="translate(563,529) scale(0.166667)"><polygon points="0,0 240,0 270,30 300,60 330,100 360,130 420,110 450,110 480,140 520,170 555,200 550,240 500,260 470,290 490,330 510,370 520,420 540,460 575,455 600,460 610,500 620,560 650,600 680,630 670,680 640,720 620,760 640,800 700,810 740,820 740,860 720,900 340,900 345,830 380,770 440,745 480,710 490,650 470,640 400,630 330,630 280,620 290,590 240,540 190,500 170,440 150,390 110,330 60,270 20,220 0,210" fill="#66ffff"/><polygon points="300,0 460,0 450,15 400,18 330,10" fill="#66ffff"/><polygon points="650,270 660,230 690,212 730,215 745,250 750,300 740,350 710,365 685,340 665,300" fill="#66ffff"/><polygon points="840,475 855,458 870,470 870,495 855,505 842,495" fill="#66ffff"/><polygon points="670,265 680,235 710,228 725,250 725,300 715,330 700,320 685,290" fill="#3c96ff"/><polygon points="690,270 700,245 712,245 710,270" fill="#0000ff"/><polygon points="0,0 230,0 260,40 290,80 320,130 360,160 420,150 460,160 500,190 510,220 480,250 440,270 430,300 460,330 480,370 490,420 510,470 560,510 580,560 570,600 500,610 440,600 360,610 300,590 270,560 220,510 190,460 170,400 130,340 90,290 60,240 20,200 0,180" fill="#3c96ff"/><polygon points="360,820 390,780 440,760 490,730 500,680 530,660 580,660 610,690 620,730 640,770 680,790 710,820 710,860 690,900 360,900" fill="#3c96ff"/><polygon points="0,0 228,0 252,35 277,68 297,108 307,145 330,172 360,180 400,170 440,170 468,192 460,232 415,255 400,268 422,298 458,333 476,373 488,413 508,448 538,482 572,518 588,560 575,602 520,600 458,590 393,580 340,555 287,518 246,470 207,412 173,352 140,292 130,258 170,232 190,210 182,175 170,135 160,100 150,85 110,100 60,130 0,150" fill="#0000ff"/><polygon points="0,160 40,140 80,110 120,85 160,92 170,120 180,160 185,200 165,225 135,240 110,235 90,210 60,190 20,180 0,180" fill="#3c96ff"/><polygon points="130,100 150,92 165,98 158,110 140,112" fill="#66ffff"/><polygon points="420,830 450,800 490,790 520,760 530,700 550,675 580,675 600,700 605,740 610,780 650,790 680,810 690,850 680,880 650,892 450,892 428,870" fill="#0000ff"/><polygon points="0,0 215,0 240,35 265,70 285,110 295,150 320,185 360,195 400,185 435,188 450,205 435,230 395,245 380,265 405,300 440,335 458,375 470,415 492,455 525,492 555,525 568,560 558,585 520,582 460,572 400,560 350,535 300,500 260,455 222,398 190,340 160,285 150,265 190,245 205,215 195,175 185,130 175,95 150,70 110,85 60,110 0,135" fill="#00ff00"/><polygon points="305,440 325,412 360,402 385,418 365,448 335,462 310,458" fill="#0000ff"/><polygon points="315,440 330,420 360,410 375,420 360,440 335,455 318,452" fill="#3c96ff"/><polygon points="0,0 200,0 215,40 210,80 180,70 140,65 90,85 40,105 0,115" fill="#00c000"/><polygon points="215,60 245,90 270,130 285,175 310,205 350,212 390,205 410,215 390,238 365,258 362,285 392,318 425,352 442,392 458,430 480,465 512,500 540,532 540,560 500,562 440,552 385,535 330,502 285,458 245,400 212,340 185,290 178,268 215,248 232,210 220,160" fill="#00c000"/><polygon points="0,0 190,0 200,40 180,55 130,55 80,75 30,95 0,100" fill="#008c00"/><polygon points="205,110 240,100 270,140 275,180 250,200 225,190 212,150" fill="#008c00"/><polygon points="0,0 180,0 190,30 160,45 110,50 60,60 20,75 0,80" fill="#ffff00"/><polygon points="220,135 232,115 255,115 265,140 255,160 232,160" fill="#ffff00"/><polygon points="0,0 165,0 170,20 130,35 80,45 30,55 0,60" fill="#ffcc00"/><polygon points="0,0 150,0 150,15 110,28 60,38 20,45 0,48" fill="#ff6600"/><polygon points="0,0 140,0 130,15 80,25 30,35 0,38" fill="#ff0000"/><polygon points="20,0 120,0 110,12 70,20 30,22" fill="#cc3300"/><polygon points="180,260 210,245 250,240 290,245 320,225 340,215 360,235 355,265 370,300 400,330 430,360 445,390 440,410 400,405 370,400 340,410 300,400 270,380 250,350 230,320 200,290" fill="#ffff00"/><polygon points="375,480 390,465 430,460 470,470 500,490 510,520 500,550 470,555 440,545 400,520 380,500" fill="#ffff00"/><polygon points="210,280 240,260 280,260 310,270 330,290 360,320 400,345 420,370 430,395 400,395 360,385 320,385 290,375 260,345 230,310" fill="#ffcc00"/><polygon points="410,490 430,480 460,485 485,505 485,530 460,540 430,530 415,510" fill="#ffcc00"/><polygon points="230,290 260,275 290,280 315,300 330,330 330,355 300,360 270,345 250,320" fill="#ff6600"/><polygon points="435,500 450,492 470,500 475,520 460,532 440,525" fill="#ff6600"/><polygon points="440,850 470,815 510,800 530,770 540,700 560,685 580,690 595,720 600,770 640,790 670,810 680,850 665,875 640,882 460,882 445,868" fill="#00ff00"/><polygon points="470,860 500,830 530,815 545,790 550,730 565,710 580,720 585,770 600,800 640,810 660,850 650,870 620,875 480,875" fill="#00c000"/><polygon points="500,870 520,850 540,830 555,800 560,760 570,740 578,760 580,800 560,840 540,865 520,872" fill="#008c00"/><polygon points="545,800 560,770 580,770 595,790 630,800 660,820 665,850 650,870 620,875 580,870 550,855 540,830" fill="#ffff00"/><polygon points="590,820 610,805 640,815 660,840 650,870 620,875 595,860" fill="#ffcc00"/><polygon points="605,830 620,818 645,825 650,850 635,862 612,855" fill="#ff6600"/><polygon points="620,832 635,825 645,838 635,850 622,845" fill="#ff0000"/></g></g><g clip-path="url(#c18)"><g transform="translate(713,529) scale(0.166667)"><polygon points="8,180 18,170 32,175 35,190 20,198 8,192" fill="#66ffff"/></g></g><g clip-path="url(#c19)"><g transform="translate(863,529) scale(0.166667)"></g></g><g clip-path="url(#c20)"><g transform="translate(263,679) scale(0.166667)"><polygon points="0,260 20,320 60,380 120,410 190,430 250,460 300,500 330,530 330,560 310,600 300,640 300,690 250,710 180,720 100,730 50,740 20,770 0,790" fill="#66ffff"/><polygon points="0,300 15,350 50,400 110,425 180,440 240,470 290,510 310,550 300,600 290,640 290,680 240,690 180,700 100,715 40,730 0,760" fill="#3c96ff"/><polygon points="10,380 40,400 100,430 160,445 230,470 280,510 300,550 290,600 280,640 240,655 180,665 130,680 100,700 60,720 20,740 0,750 0,620 30,625 60,640 100,630 110,600 90,560 60,510 30,460 10,420" fill="#0000ff"/><polygon points="0,440 20,460 45,505 75,555 85,595 60,615 0,610" fill="#3c96ff"/><polygon points="0,470 30,490 55,540 70,580 55,600 0,600" fill="#66ffff"/><polygon points="0,520 25,530 40,560 25,585 0,580" fill="#ffffff"/><polygon points="25,410 60,420 110,440 170,455 230,480 270,510 285,550 280,600 260,630 220,645 170,650 130,660 110,630 115,590 95,550 65,500 35,450" fill="#00ff00"/><polygon points="0,630 30,630 60,650 90,680 70,700 30,720 0,735" fill="#00ff00"/><polygon points="50,440 110,455 170,465 230,490 270,520 285,560 275,610 250,635 200,645 150,650 125,630 120,590 100,545 75,495" fill="#00c000"/><polygon points="0,650 30,650 60,670 40,700 0,715" fill="#00c000"/><polygon points="100,470 150,470 200,480 250,505 280,540 280,600 260,630 210,640 160,640 140,610 130,560 115,510" fill="#008c00"/><polygon points="0,670 20,670 30,690 0,705" fill="#008c00"/><polygon points="165,500 195,478 235,480 265,510 280,550 275,600 255,628 215,635 180,625 170,590 165,545" fill="#ffff00"/><polygon points="195,510 215,495 245,505 262,540 262,590 245,615 215,615 200,590 198,550" fill="#ffcc00"/><polygon points="210,520 230,505 250,520 255,560 250,600 230,610 215,590 212,550" fill="#ff6600"/></g></g><g clip-path="url(#c21)"><g transform="translate(413,679) scale(0.166667)"><polygon points="805,850 810,830 840,828 870,840 875,850" fill="#66ffff"/></g></g><g clip-path="url(#c22)"><g transform="translate(563,679) scale(0.166667)"><polygon points="345,0 740,0 730,30 715,60 700,90 680,100 650,90 640,60 630,30 600,20 420,22 360,12" fill="#66ffff"/><polygon points="360,0 710,0 705,30 695,50 670,55 655,30 640,8 380,7" fill="#3c96ff"/><polygon points="675,40 685,28 695,40 685,52" fill="#0000ff"/><polygon points="320,120 340,90 400,75 440,80 500,90 560,100 620,100 660,95 700,90 740,110 780,150 820,165 870,175 900,200 890,240 900,250 900,850 290,850 300,800 310,760 290,735 250,735 200,748 140,758 90,748 62,720 70,688 100,650 150,612 200,600 250,608 290,625 330,600 360,565 380,520 390,470 380,420 365,370 360,330 380,300 400,260 390,220 365,180 335,160" fill="#66ffff"/><polygon points="75,850 100,830 150,825 170,840 160,850" fill="#66ffff"/><polygon points="370,120 400,100 440,100 500,110 560,115 620,110 680,105 730,125 780,160 820,180 860,190 885,215 870,255 890,275 900,278 900,850 320,850 330,800 340,740 345,700 330,680 360,640 390,600 410,550 420,500 420,450 410,400 400,350 410,310 430,270 420,230 400,190 380,160" fill="#3c96ff"/><polygon points="90,720 110,690 160,660 200,640 240,630 265,650 260,690 230,710 180,720 130,728 100,730" fill="#3c96ff"/><polygon points="430,140 460,118 520,120 580,118 640,110 690,108 730,130 770,180 820,195 850,200 870,218 855,260 875,285 900,290 900,850 360,850 365,780 380,720 400,680 410,640 405,600 405,550 420,510 450,490 485,495 510,470 515,430 520,390 550,365 585,345 598,305 585,265 545,240 485,212 450,180" fill="#0000ff"/><polygon points="150,715 170,680 200,655 235,650 255,670 250,700 220,715 180,725" fill="#0000ff"/><polygon points="175,705 190,680 215,660 240,665 245,690 220,705 190,715" fill="#00ff00"/><polygon points="460,615 480,598 510,600 518,620 500,638 470,635" fill="#3c96ff"/><polygon points="440,150 470,128 530,130 590,125 640,118 690,118 730,140 765,190 810,210 845,215 855,235 840,260 860,290 900,300 900,850 370,850 375,790 390,730 410,690 440,670 480,660 510,650 530,630 540,580 555,540 550,500 535,460 530,420 545,390 580,365 605,330 605,290 590,255 540,228 490,200 460,180" fill="#00ff00"/><polygon points="420,560 430,525 455,508 480,520 492,550 485,580 462,600 440,598 422,582" fill="#00ff00"/><polygon points="435,560 445,535 462,525 478,540 480,565 465,585 445,585" fill="#00c000"/><polygon points="480,160 520,145 590,140 640,135 690,135 720,155 750,200 790,225 820,235 810,260 820,290 860,310 900,320 900,850 390,850 395,800 410,745 430,710 470,690 510,680 545,660 560,620 575,570 580,520 565,470 560,430 580,400 610,370 630,330 625,285 600,245 550,215 505,190" fill="#00c000"/><polygon points="600,160 640,150 690,150 720,175 740,210 720,240 680,250 640,240 610,210" fill="#008c00"/><polygon points="560,430 590,400 620,370 650,340 690,320 720,330 720,380 700,420 660,450 610,470 575,470" fill="#008c00"/><polygon points="380,800 395,750 420,720 460,705 480,720 470,760 450,800 440,850 385,850" fill="#008c00"/><polygon points="810,530 825,520 842,530 835,545 815,545" fill="#0000ff"/><polygon points="860,600 870,560 900,540 900,650 870,640" fill="#0000ff"/><polygon points="875,600 885,570 900,560 900,630 880,625" fill="#3c96ff"/><polygon points="520,170 540,145 575,138 605,150 615,175 600,205 570,215 535,205" fill="#ffff00"/><polygon points="680,380 700,350 740,330 800,325 860,320 900,320 900,500 860,500 820,490 780,480 740,460 710,430" fill="#ffff00"/><polygon points="450,850 460,790 480,740 510,700 560,680 600,670 640,650 640,600 620,560 620,510 640,490 690,490 730,510 770,540 790,570 780,610 770,650 790,700 830,720 870,700 900,690 900,850" fill="#ffff00"/><polygon points="700,190 710,180 715,195 705,205" fill="#ffff00"/><polygon points="800,230 820,225 825,240 805,245" fill="#ffff00"/><polygon points="530,170 550,150 575,148 598,160 600,185 585,205 560,208 538,195" fill="#ffcc00"/><polygon points="730,380 760,360 820,350 880,345 900,345 900,480 860,478 810,465 770,445 745,420" fill="#ffcc00"/><polygon points="470,850 490,790 520,740 570,710 620,700 660,690 670,650 660,600 650,560 660,530 700,520 740,540 760,570 750,610 750,660 780,720 830,740 880,720 900,715 900,850" fill="#ffcc00"/><polygon points="548,168 565,158 582,165 585,180 570,192 552,185" fill="#ff6600"/><polygon points="760,400 790,380 840,370 900,365 900,460 850,460 800,445 775,425" fill="#ff6600"/><polygon points="490,850 505,790 540,750 590,730 640,730 690,720 720,680 700,640 680,600 690,560 720,550 745,570 740,620 740,680 770,740 830,760 880,745 900,740 900,850" fill="#ff6600"/><polygon points="595,710 615,695 640,700 645,725 630,745 605,745 595,730" fill="#ffff00"/><polygon points="780,420 810,395 850,390 880,400 880,440 850,455 810,450" fill="#ff0000"/><polygon points="500,850 515,790 550,760 600,755 650,762 700,770 750,780 800,790 850,790 900,780 900,850" fill="#ff0000"/><polygon points="560,810 600,790 650,790 700,800 740,790 800,800 850,810 880,830 880,850 560,850" fill="#cc3300"/><polygon points="740,790 780,780 820,790 840,810 820,830 780,830 750,815" fill="#960000"/><polygon points="770,792 800,788 805,800 775,802" fill="#ff00ff"/></g></g><g clip-path="url(#c23)"><g transform="translate(713,679) scale(0.166667)"><polygon points="0,210 20,260 60,300 120,305 180,305 250,320 300,340 360,360 420,380 480,390 530,380 545,350 580,320 620,310 660,305 680,320 670,350 630,380 620,420 630,470 640,510 620,530 600,570 580,610 540,640 480,650 400,640 350,660 320,700 270,690 230,650 180,610 120,600 60,580 0,570" fill="#66ffff"/><polygon points="540,660 550,650 560,660 550,670" fill="#66ffff"/><polygon points="750,430 765,415 778,425 770,445 755,445" fill="#66ffff"/><polygon points="0,195 8,190 10,210 0,215" fill="#66ffff"/><polygon points="560,850 570,840 605,840 610,850" fill="#66ffff"/><polygon points="0,240 25,285 60,315 130,320 200,320 260,335 320,360 370,380 430,395 490,400 540,410 580,430 600,470 610,510 600,545 580,580 540,610 480,630 400,620 340,600 300,580 260,560 200,590 150,580 100,570 40,560 0,555" fill="#3c96ff"/><polygon points="580,340 600,318 640,310 675,320 680,345 660,370 620,375 590,365" fill="#3c96ff"/><polygon points="265,650 280,630 310,635 340,655 345,680 320,690 285,680" fill="#3c96ff"/><polygon points="0,265 30,305 60,325 130,330 200,335 260,350 310,375 370,395 430,405 490,410 540,420 570,450 580,490 590,530 580,560 560,580 520,600 480,615 430,610 390,590 350,560 320,540 290,515 260,510 220,530 200,560 180,580 130,570 80,560 30,550 0,545" fill="#0000ff"/><polygon points="615,330 635,320 655,330 650,345 625,348" fill="#0000ff"/><polygon points="0,290 30,320 60,335 130,340 200,345 260,360 300,385 350,405 410,415 470,420 530,428 560,460 570,500 580,535 570,565 540,580 500,600 460,605 420,595 390,570 350,540 340,515 300,500 260,500 220,515 195,545 175,565 130,560 80,550 30,540 0,535" fill="#00ff00"/><polygon points="320,510 340,500 370,510 350,525" fill="#0000ff"/><polygon points="470,515 500,510 530,515 510,530" fill="#0000ff"/><polygon points="0,340 60,345 130,350 200,355 250,370 280,395 310,420 330,450 300,480 250,490 210,500 190,530 170,550 130,545 80,535 30,520 0,515" fill="#00c000"/><polygon points="390,560 400,540 440,530 480,540 500,565 490,600 460,610 420,600" fill="#00c000"/><polygon points="540,535 560,520 580,530 575,555 555,560" fill="#00c000"/><polygon points="0,360 40,350 80,355 100,380 120,420 150,440 190,440 220,450 240,470 220,500 200,520 180,545 160,545 120,530 80,520 40,500 0,490" fill="#008c00"/><polygon points="400,570 415,545 450,538 480,550 490,580 470,605 435,608 410,595" fill="#008c00"/><polygon points="0,355 50,350 100,355 150,370 200,385 240,400 265,430 270,460 240,475 200,480 160,470 120,460 80,470 40,480 0,490" fill="#ffff00"/><polygon points="450,455 470,435 505,435 525,455 515,478 490,485 460,478" fill="#ffff00"/><polygon points="415,580 425,560 450,552 475,565 480,590 460,610 435,610 418,598" fill="#ffff00"/><polygon points="170,548 180,542 185,555" fill="#ffff00"/><polygon points="0,360 50,358 100,365 150,380 200,395 230,415 245,440 235,460 200,465 160,460 120,445 80,440 40,450 0,455" fill="#ffcc00"/><polygon points="0,365 50,365 100,375 150,390 190,405 215,425 225,450 200,455 160,450 120,430 80,420 40,420 0,425" fill="#ff6600"/><polygon points="95,405 115,398 135,410 130,425 105,425" fill="#ff0000"/><polygon points="0,620 60,640 120,660 170,690 210,730 220,780 210,830 200,850 0,850" fill="#66ffff"/><polygon points="0,630 60,650 120,672 165,705 200,745 205,800 195,850 0,850" fill="#3c96ff"/><polygon points="0,640 60,660 110,680 160,715 185,760 190,810 175,850 0,850" fill="#0000ff"/><polygon points="0,650 60,670 110,695 150,730 175,775 175,820 160,850 0,850" fill="#00ff00"/><polygon points="0,670 50,690 100,715 130,745 150,785 150,830 140,850 0,850" fill="#00c000"/><polygon points="60,720 100,730 130,770 130,820 110,850 60,850 70,800 80,760" fill="#008c00"/><polygon points="0,680 40,690 80,705 110,725 100,760 70,780 60,820 50,850 0,850" fill="#ffff00"/><polygon points="0,700 40,705 70,720 80,745 60,760 40,775 30,800 0,810" fill="#ffcc00"/><polygon points="0,745 30,750 50,775 45,815 30,850 0,850" fill="#ff6600"/><polygon points="0,780 20,785 30,810 25,850 0,850" fill="#ff0000"/></g></g><g clip-path="url(#c24)"><g transform="translate(863,679) scale(0.166667)"><polygon points="165,850 185,825 205,810 225,815 235,830 230,850" fill="#66ffff"/></g></g><g clip-path="url(#c25)"><g transform="translate(463,460) scale(0.166667)"><polygon points="0,0 1200,0 1200,600 0,600" fill="#ffffff"/><polygon points="1160,4 1175,-18 1200,-24 1225,-6 1230,24 1210,49 1185,54 1165,34" fill="#66ffff"/><polygon points="1175,9 1190,-6 1210,-1 1215,19 1200,34 1180,29" fill="#3c96ff"/><polygon points="40,330 70,300 80,250 70,160 110,180 150,200 200,205 270,200 320,190 360,160 380,120 440,115 520,120 600,105 640,90 700,95 760,110 820,125 870,150 900,195 950,240 1000,250 1060,265 1095,300 1100,350 1090,400 1060,420 1000,425 940,415 880,410 850,420 860,470 900,520 960,560 1030,570 1100,550 1200,520 1200,600 450,600 400,540 330,500 260,470 200,430 130,420 80,410 45,380" fill="#66ffff"/><polygon points="60,350 90,320 130,300 130,260 130,215 180,230 250,235 320,225 370,200 400,160 450,150 520,145 600,125 650,110 700,120 760,130 820,145 860,170 890,210 930,250 990,270 1050,285 1080,320 1080,370 1060,400 1020,410 950,400 900,395 860,390 830,410 830,450 850,490 900,540 960,580 1000,600 470,600 420,560 350,520 280,490 220,460 160,440 100,410 70,390" fill="#3c96ff"/><polygon points="330,330 360,320 390,340 380,360 350,365 330,350" fill="#66ffff"/><polygon points="165,250 180,235 230,235 280,240 310,260 320,290 300,320 260,330 240,345 260,370 300,385 360,400 410,420 430,460 430,500 410,520 370,510 320,470 270,430 230,400 200,360 180,320 170,290" fill="#0000ff"/><polygon points="345,270 360,250 400,240 440,250 480,240 520,220 560,200 600,175 640,150 680,135 720,140 760,155 800,175 840,190 870,210 880,250 860,290 840,310 820,340 820,380 850,420 870,460 880,500 900,540 910,600 780,600 760,560 740,530 700,510 650,510 600,540 560,560 520,540 490,500 470,460 450,420 420,390 400,370 380,350 360,330 345,300" fill="#0000ff"/><polygon points="880,250 900,230 940,270 990,290 1040,310 1070,340 1070,380 1050,410 1000,410 950,390 910,370 880,330 860,300" fill="#0000ff"/><polygon points="75,365 90,345 110,345 120,365 110,385 90,390" fill="#0000ff"/><polygon points="690,520 720,505 770,505 790,520 770,540 720,540" fill="#3c96ff"/><polygon points="730,515 750,508 775,512 760,528 735,528" fill="#66ffff"/><polygon points="180,265 200,245 240,245 280,255 300,280 290,310 270,330 250,340 260,360 300,375 350,390 400,410 420,450 425,490 410,510 380,500 340,470 290,430 250,400 215,370 195,330 185,300" fill="#00ff00"/><polygon points="355,280 370,260 410,250 450,255 490,245 530,225 570,205 610,180 650,160 690,150 730,152 770,165 810,185 850,200 865,230 860,270 840,295 815,320 810,360 830,410 850,450 865,490 880,530 895,580 895,600 790,600 770,560 760,530 720,505 670,500 630,510 590,530 560,545 530,530 505,495 485,455 465,420 440,395 410,370 385,345 365,320" fill="#00ff00"/><polygon points="890,260 905,245 945,285 990,300 1035,320 1060,345 1060,375 1040,400 1000,400 955,385 915,365 890,330 875,300" fill="#00ff00"/><polygon points="85,365 95,352 108,355 112,370 100,382 88,378" fill="#00ff00"/><polygon points="195,270 215,255 250,255 280,270 290,290 275,315 240,325 210,315 195,295" fill="#00c000"/><polygon points="280,390 320,380 360,400 395,425 410,465 405,495 380,495 340,465 300,430" fill="#00c000"/><polygon points="380,285 400,268 440,265 480,262 520,245 560,225 600,200 640,178 690,165 730,168 770,180 800,200 820,220 810,250 790,280 780,320 790,370 810,420 830,470 850,520 860,570 855,600 810,600 790,560 770,520 740,490 700,480 650,480 610,490 570,510 545,500 520,470 500,440 470,405 440,375 410,350 390,320" fill="#00c000"/><polygon points="920,330 940,310 990,320 1030,340 1045,365 1030,390 990,392 950,375 925,355" fill="#00c000"/><polygon points="290,400 330,392 370,410 395,440 400,480 380,485 345,460 310,430" fill="#008c00"/><polygon points="840,230 860,220 875,240 865,260 845,258" fill="#008c00"/><polygon points="990,360 1010,350 1030,365 1030,385 1005,390" fill="#008c00"/><polygon points="780,540 800,530 840,540 855,580 850,600 790,600" fill="#008c00"/><polygon points="200,285 215,265 245,262 275,275 285,295 270,315 240,322 210,312" fill="#ffff00"/><polygon points="330,430 350,415 380,425 400,450 405,480 390,495 365,490 340,465" fill="#ffff00"/><polygon points="390,300 410,285 450,280 500,275 540,255 580,235 620,230 660,240 700,245 740,240 740,220 760,230 775,260 780,300 790,350 800,400 810,440 820,480 800,490 770,470 730,460 690,465 650,470 620,475 590,480 560,470 530,440 500,410 470,380 440,350 410,330" fill="#ffff00"/><polygon points="1005,380 1015,370 1035,375 1040,390 1025,400 1010,395" fill="#ffff00"/><polygon points="820,550 835,530 855,535 865,555 855,580 830,580" fill="#ffff00"/><polygon points="215,290 230,275 255,278 268,295 255,310 232,312" fill="#ffcc00"/><polygon points="355,445 370,438 388,450 395,470 385,485 365,478" fill="#ffcc00"/><polygon points="420,305 440,295 480,295 520,290 560,270 600,255 640,258 680,270 720,280 750,300 765,340 775,390 780,430 760,445 720,440 680,445 640,450 610,455 580,450 550,430 520,400 490,370 460,345 430,325" fill="#ffcc00"/><polygon points="225,292 240,282 258,290 255,305 238,308" fill="#ff6600"/><polygon points="430,310 450,300 490,300 530,300 570,280 610,265 650,268 690,285 730,310 755,350 765,400 760,430 720,430 680,430 640,435 610,435 580,420 550,395 520,370 480,340 450,325" fill="#ff6600"/><polygon points="530,320 560,300 600,280 640,275 680,290 720,320 745,360 750,410 730,425 690,420 650,420 620,415 590,395 560,370 540,345" fill="#ff0000"/><polygon points="610,330 640,310 680,320 710,345 740,370 745,405 720,420 680,415 640,405 620,380 612,355" fill="#cc3300"/><polygon points="670,385 700,370 730,365 745,380 740,400 715,405 685,400" fill="#960000"/><polygon points="715,380 728,378 730,388 717,389" fill="#ff00ff"/></g></g><g clip-path="url(#c26)"><g transform="translate(600,690) scale(0.150000)"><polygon points="0,0 1200,0 1200,873 0,873" fill="#ffffff"/><polygon points="113,40 133,20 167,10 220,10 260,15 330,20 400,30 460,15 480,0 545,0 560,40 600,60 640,90 690,105 740,120 765,160 750,200 720,240 760,260 830,280 900,290 960,300 1010,310 1080,330 1140,340 1200,345 1200,873 110,873 100,820 110,760 120,700 110,650 140,600 147,567 160,507 180,480 200,440 187,400 153,360 147,313 167,280 213,247 220,200 200,167 153,133 113,100 107,53" fill="#66ffff"/><polygon points="715,590 730,545 780,530 840,545 870,590 920,600 970,620 1001,711 1033,742 1063,768 1095,783 1115,786 1147,763 1167,732 1178,716 1200,712 1200,873 1000,873 980,790 950,740 900,710 850,690 780,660 730,630" fill="#ffffff"/><polygon points="0,600 30,595 60,620 70,660 60,700 30,730 0,740" fill="#66ffff"/><polygon points="1030,640 1060,610 1110,615 1140,650 1130,700 1080,705 1040,680" fill="#66ffff"/><polygon points="1050,640 1070,625 1105,630 1125,660 1110,690 1075,690 1055,670" fill="#3c96ff"/><polygon points="160,70 200,40 260,40 330,45 400,50 470,40 500,20 540,30 570,70 620,100 680,130 720,140 730,170 700,220 690,250 750,280 830,300 900,310 960,320 1030,330 1100,350 1200,360 1200,560 1150,540 1100,520 1050,500 1000,500 950,520 900,540 840,520 780,505 730,515 705,560 700,610 730,650 790,680 860,710 910,740 950,780 970,873 150,873 130,820 140,760 150,700 140,650 167,600 173,567 180,520 193,480 220,453 247,413 253,373 260,333 287,307 313,267 280,227 267,187 220,147 180,107 167,67" fill="#3c96ff"/><polygon points="0,610 25,610 50,630 55,665 45,700 20,720 0,725" fill="#3c96ff"/><polygon points="230,80 260,60 330,60 400,70 460,60 500,45 540,60 580,110 620,130 670,140 700,160 690,200 670,240 700,270 780,290 850,310 920,325 990,335 1060,345 1130,365 1200,370 1200,490 1150,490 1100,480 1050,480 1000,490 950,500 900,510 840,500 780,490 730,495 700,530 690,580 690,630 730,660 800,690 870,720 920,750 950,800 960,873 170,873 160,820 160,750 180,700 220,660 270,630 320,605 340,587 360,567 373,533 367,493 353,453 333,413 320,373 333,353 373,333 393,307 400,267 393,227 373,200 333,193 293,160 253,113 233,73" fill="#0000ff"/><polygon points="205,550 220,510 250,485 280,500 305,540 300,580 270,605 235,600" fill="#0000ff"/><polygon points="0,640 20,645 35,670 25,700 0,710" fill="#0000ff"/><polygon points="220,550 235,520 255,505 275,520 290,550 280,580 255,592 232,585" fill="#00ff00"/><polygon points="0,650 15,655 25,675 15,695 0,700" fill="#00ff00"/><polygon points="250,90 280,70 340,70 400,80 460,70 500,60 530,75 570,120 610,140 660,150 690,170 675,210 660,245 700,280 780,300 850,320 920,335 990,345 1060,355 1130,375 1200,380 1200,480 1140,478 1090,470 1040,470 990,480 945,490 900,500 840,490 780,480 720,485 690,520 680,570 675,630 720,665 790,700 860,730 905,760 935,810 945,873 180,873 175,820 180,760 200,715 240,680 290,650 330,620 373,600 387,567 393,533 387,493 373,453 353,413 347,373 373,360 407,333 420,293 420,253 400,213 360,200 313,167 280,120 253,80" fill="#00ff00"/><polygon points="280,100 320,85 380,90 440,90 490,80 520,95 560,140 600,160 640,170 660,190 640,230 630,260 680,290 760,310 830,330 900,345 970,355 1040,365 1110,385 1200,395 1200,470 1100,460 1000,465 940,480 880,485 820,475 760,465 700,470 660,500 650,560 650,620 700,660 780,700 850,740 890,770 920,820 925,873 200,873 195,820 200,770 220,730 260,700 310,670 345,630 370,570 385,510 390,450 400,400 425,370 440,320 430,270 400,230 340,190 295,150" fill="#00c000"/><polygon points="420,110 470,90 510,100 550,140 570,170 540,190 490,190 450,170 430,140" fill="#008c00"/><polygon points="390,420 410,380 440,360 470,380 480,430 470,470 440,480 410,470" fill="#008c00"/><polygon points="830,420 870,400 930,410 1000,420 1050,430 1040,460 990,470 930,490 880,490 840,470" fill="#008c00"/><polygon points="180,780 200,740 240,720 260,760 250,820 230,873 185,873" fill="#008c00"/><polygon points="830,760 870,770 900,810 905,873 840,873 825,820" fill="#008c00"/><polygon points="330,110 350,85 390,78 425,90 440,120 425,155 390,165 350,155" fill="#ffff00"/><polygon points="510,340 540,310 600,295 660,295 720,305 790,320 860,340 930,360 990,380 1040,400 1060,430 1040,460 990,460 930,450 880,450 830,440 800,460 760,470 700,470 640,470 580,460 550,440 520,400" fill="#ffff00"/><polygon points="440,490 470,470 530,470 580,500 610,540 620,580 600,620 600,660 640,690 700,700 780,710 850,730 880,760 870,800 840,830 820,873 270,873 250,820 260,760 280,720 330,690 380,660 420,620 440,570 440,520" fill="#ffff00"/><polygon points="530,135 540,128 545,145 535,152" fill="#ffff00"/><polygon points="645,180 660,175 662,190 648,192" fill="#ffff00"/><polygon points="940,530 950,525 955,545 942,545" fill="#ffff00"/><polygon points="350,110 365,95 395,92 418,105 425,125 410,148 385,152 360,142" fill="#ffcc00"/><polygon points="560,350 590,325 640,320 700,330 760,345 830,360 900,380 960,395 1010,410 1030,430 1010,450 960,445 900,435 850,420 800,420 760,440 700,450 640,445 590,430 570,400" fill="#ffcc00"/><polygon points="470,520 500,500 540,505 570,535 580,580 570,620 560,660 590,700 650,720 720,720 790,730 830,750 830,790 800,820 760,873 300,873 290,820 300,770 330,730 390,700 430,660 460,610 465,560" fill="#ffcc00"/><polygon points="365,110 380,100 400,103 410,118 400,135 380,138 368,128" fill="#ff6600"/><polygon points="590,370 620,345 670,345 720,360 770,370 820,375 870,385 930,400 980,420 990,440 960,440 900,430 850,410 810,400 780,410 750,430 700,440 650,440 610,420" fill="#ff6600"/><polygon points="510,540 530,520 560,525 575,550 565,580 540,590 515,575" fill="#ff6600"/><polygon points="460,650 480,630 510,640 540,680 560,720 600,740 680,760 740,770 780,790 770,830 740,873 320,873 310,820 320,780 350,740 400,720 440,700" fill="#ff6600"/><polygon points="410,700 430,685 460,690 470,715 455,740 425,745 410,725" fill="#ffff00"/><polygon points="610,390 640,370 680,370 720,385 740,405 730,430 700,440 660,440 620,425" fill="#ff0000"/><polygon points="860,385 880,375 905,380 910,395 890,400 865,398" fill="#ff0000"/><polygon points="320,873 330,800 350,760 380,740 400,760 420,790 480,780 540,760 600,770 660,790 700,800 730,830 720,873" fill="#ff0000"/><polygon points="380,830 420,810 480,800 540,790 600,800 640,820 660,850 650,873 390,873" fill="#cc3300"/><polygon points="580,800 620,785 660,790 690,810 700,840 690,873 590,873 575,840" fill="#960000"/><polygon points="605,800 640,798 645,815 610,818" fill="#ff00ff"/></g></g><g clip-path="url(#c27)"><g transform="translate(760,710) scale(0.088889)"><polygon points="0,0 900,0 900,900 0,900" fill="#ffffff"/><polygon points="0,270 100,300 200,330 300,345 400,350 470,330 500,280 550,240 620,215 710,215 750,250 740,310 700,340 620,370 600,400 640,480 680,560 660,620 620,680 600,740 560,790 500,820 430,850 380,870 300,880 200,870 150,900 0,900" fill="#66ffff"/><polygon points="480,900 485,880 505,870 525,880 520,900" fill="#66ffff"/><polygon points="870,440 890,425 900,425 900,490 880,480" fill="#66ffff"/><polygon points="0,300 100,330 200,370 300,380 400,390 480,400 540,430 580,500 600,580 590,650 560,720 520,770 460,800 400,810 300,800 200,790 150,800 120,840 100,870 60,880 0,870" fill="#3c96ff"/><polygon points="555,280 600,250 680,240 720,260 710,310 650,340 590,330" fill="#3c96ff"/><polygon points="0,340 50,380 100,420 200,410 300,410 400,415 470,430 510,460 530,520 530,580 560,620 570,660 550,700 510,720 450,740 400,800 360,830 300,830 230,800 180,760 120,690 90,640 50,620 0,610" fill="#0000ff"/><polygon points="640,270 680,265 700,285 680,300 645,300" fill="#0000ff"/><polygon points="0,370 80,400 150,430 250,420 350,420 440,425 500,460 520,520 510,580 550,630 560,680 530,720 480,730 420,760 380,810 330,830 270,810 220,790 180,750 140,700 120,650 160,620 100,600 50,600 0,590" fill="#00ff00"/><polygon points="350,610 400,605 470,610 440,640 410,625" fill="#0000ff"/><polygon points="0,420 100,440 200,460 280,470 300,520 280,560 200,560 100,560 0,550" fill="#00c000"/><polygon points="300,490 330,450 400,440 460,460 490,500 470,550 420,570 350,570 310,540" fill="#00c000"/><polygon points="190,720 220,670 280,650 350,660 400,700 400,760 360,810 300,820 240,790 200,760" fill="#00c000"/><polygon points="500,660 520,640 555,650 560,690 540,710 505,700" fill="#00c000"/><polygon points="0,470 50,480 30,520 0,530" fill="#008c00"/><polygon points="310,500 340,465 400,455 450,475 475,505 460,545 420,560 355,560 320,535" fill="#008c00"/><polygon points="210,730 235,685 285,670 345,675 385,710 385,760 350,800 300,805 250,785 220,760" fill="#008c00"/><polygon points="320,500 350,470 400,465 440,480 460,510 445,540 410,550 360,550 330,530" fill="#ffff00"/><polygon points="250,730 270,695 310,685 350,700 370,740 360,790 330,805 290,800 260,775" fill="#ffff00"/></g></g></g>
<g fill="none" stroke="#000" stroke-width="1.1" stroke-linejoin="round"><g clip-path="url(#c0)"><g transform="translate(263,79) scale(0.166667)"><polyline points="90,0 120,50 150,100 190,135 215,185 240,255 300,280 355,300 365,330 375,362 330,340 288,375 320,410 358,460 330,505 265,495 215,520 172,485 90,555 185,600 230,630 275,675 335,662 378,700 385,760 387,850 378,900" vector-effect="non-scaling-stroke"/><polyline points="355,300 375,240 410,195 430,138 490,124 550,170 620,215 740,240 820,265 900,310" vector-effect="non-scaling-stroke"/><polyline points="380,0 420,40 520,88 550,135 660,185 780,210 840,240 870,265 900,270" vector-effect="non-scaling-stroke"/></g></g><g clip-path="url(#c1)"><g transform="translate(413,79) scale(0.166667)"><polyline points="0,272 100,275 170,290 240,325 270,338 345,340 395,362 440,352 480,328 505,290 515,240 515,150 505,90 480,30 460,0" vector-effect="non-scaling-stroke"/><polyline points="0,315 60,345 130,380 200,410 280,450 360,485 400,465 450,425 500,390 560,360 600,330 640,308 680,338 760,342 800,370 845,400 880,440 900,455" vector-effect="non-scaling-stroke"/><polyline points="222,133 258,185 207,207 222,133" vector-effect="non-scaling-stroke"/></g></g><g clip-path="url(#c2)"><g transform="translate(563,79) scale(0.166667)"><polyline points="0,455 40,470 100,410 150,515 250,565 270,600 285,695 350,700 410,722 460,700 520,740 590,795 650,780 700,760 750,725 800,712 850,690 900,660" vector-effect="non-scaling-stroke"/><polyline points="662,0 670,60 690,160 720,240 760,330 800,400 830,460 840,505 890,500 905,497" vector-effect="non-scaling-stroke"/></g></g><g clip-path="url(#c3)"><g transform="translate(713,79) scale(0.166667)"><polyline points="-10,500 0,495 25,510 45,545 62,585 75,625 95,678 70,630 65,660 62,700 45,770 95,745 125,790 135,850 150,900" vector-effect="non-scaling-stroke"/><polyline points="-4,497 3,540 8,600 8,652 0,660 -10,664" vector-effect="non-scaling-stroke"/></g></g><g clip-path="url(#c4)"><g transform="translate(863,79) scale(0.166667)"></g></g><g clip-path="url(#c5)"><g transform="translate(263,229) scale(0.166667)"><polyline points="378,0 368,22 415,8 400,65 350,85 310,120 245,135 225,185 255,255 220,300 180,330 150,385 180,435 170,510 180,580 215,630 250,740 300,820 350,900" vector-effect="non-scaling-stroke"/><polyline points="820,480 862,510 905,580" vector-effect="non-scaling-stroke"/><polyline points="862,510 892,740 905,740" vector-effect="non-scaling-stroke"/></g></g><g clip-path="url(#c6)"><g transform="translate(413,229) scale(0.166667)"><polyline points="-5,575 0,580 25,612 75,637 135,625 168,673 228,686 262,732 310,758 345,806 400,842 470,868 505,885 530,905" vector-effect="non-scaling-stroke"/><polyline points="-5,740 0,740 40,765 70,810 105,860 150,885 200,900 220,905" vector-effect="non-scaling-stroke"/><polyline points="45,715 55,688 115,698 145,745 88,758 45,715" vector-effect="non-scaling-stroke"/></g></g><g clip-path="url(#c7)"><g transform="translate(563,229) scale(0.166667)"></g></g><g clip-path="url(#c8)"><g transform="translate(713,229) scale(0.166667)"><polyline points="145,0 180,90 210,130 240,210 270,270 300,330 350,400 400,480 440,540 480,580 510,620 560,700 610,790 660,850 730,840 750,900" vector-effect="non-scaling-stroke"/></g></g><g clip-path="url(#c9)"><g transform="translate(863,229) scale(0.166667)"></g></g><g clip-path="url(#c10)"><g transform="translate(263,379) scale(0.166667)"><polyline points="350,0 410,85 510,130 580,130 700,155 760,185 840,250 870,300 905,350" vector-effect="non-scaling-stroke"/></g></g><g clip-path="url(#c11)"><g transform="translate(413,379) scale(0.166667)"><polyline points="200,0 260,38 330,38 330,120 350,193 410,182 375,210 310,312 250,300 240,372 188,395 150,515 95,492 0,345 -10,345" vector-effect="non-scaling-stroke"/><polyline points="455,0 475,-5" vector-effect="non-scaling-stroke"/><polyline points="520,-10 530,0 555,25 570,95 610,130 665,220 672,310 640,360 630,435 690,480 700,515 750,555 785,600 840,590 900,600" vector-effect="non-scaling-stroke"/></g></g><g clip-path="url(#c12)"><g transform="translate(563,379) scale(0.166667)"><polyline points="-10,596 0,600 60,625 130,640 200,660 280,690 310,730 350,795 400,805 450,825 500,845 570,875 600,900 610,910" vector-effect="non-scaling-stroke"/></g></g><g clip-path="url(#c13)"><g transform="translate(713,379) scale(0.166667)"><polyline points="750,0 790,60 840,150 905,245" vector-effect="non-scaling-stroke"/><polyline points="845,905 845,705 870,665 905,648" vector-effect="non-scaling-stroke"/></g></g><g clip-path="url(#c14)"><g transform="translate(863,379) scale(0.166667)"><polyline points="-10,222 0,235 40,290 90,315 110,370 145,420 200,445 310,465 345,515 375,540 440,595 460,605" vector-effect="non-scaling-stroke"/><polyline points="-10,652 0,650 30,640 55,635 35,590 20,545 45,505 110,492 155,510 200,570 275,635 325,610 345,555 375,540" vector-effect="non-scaling-stroke"/></g></g><g clip-path="url(#c15)"><g transform="translate(263,529) scale(0.166667)"></g></g><g clip-path="url(#c16)"><g transform="translate(413,529) scale(0.166667)"></g></g><g clip-path="url(#c17)"><g transform="translate(563,529) scale(0.166667)"><polyline points="590,-10 600,0 640,40 690,95 740,120 790,170 830,220 860,260 880,300 905,318" vector-effect="non-scaling-stroke"/><polyline points="825,910 830,900 845,860 880,830 905,812" vector-effect="non-scaling-stroke"/></g></g><g clip-path="url(#c18)"><g transform="translate(713,529) scale(0.166667)"><polyline points="-5,312 0,315 30,345 60,400 75,440 55,500 65,575 95,620 55,655 25,705 85,692 40,712 35,720 25,780 0,805 -10,812" vector-effect="non-scaling-stroke"/><polyline points="845,-10 845,310 905,332" vector-effect="non-scaling-stroke"/><polyline points="265,905 230,790 360,765 420,860 510,905" vector-effect="non-scaling-stroke"/><polyline points="905,688 865,718 880,770 905,808" vector-effect="non-scaling-stroke"/></g></g><g clip-path="url(#c19)"><g transform="translate(863,529) scale(0.166667)"><polyline points="-10,330 0,332 30,340 65,355 105,405 160,430 190,480 175,540 130,575 90,595 30,620 15,655 0,690 -10,690" vector-effect="non-scaling-stroke"/><polyline points="-10,805 0,800 25,835 45,870 50,905" vector-effect="non-scaling-stroke"/></g></g><g clip-path="url(#c20)"><g transform="translate(263,679) scale(0.166667)"></g></g><g clip-path="url(#c21)"><g transform="translate(413,679) scale(0.166667)"></g></g><g clip-path="url(#c22)"><g transform="translate(563,679) scale(0.166667)"><polyline points="818,-10 820,0 825,20 850,70 870,110 905,132" vector-effect="non-scaling-stroke"/></g></g><g clip-path="url(#c23)"><g transform="translate(713,679) scale(0.166667)"><polyline points="-10,128 0,135 60,185 95,235 150,262 220,248 320,290 425,345 455,300 458,200 400,100 300,65 265,0 262,-10" vector-effect="non-scaling-stroke"/><polyline points="490,-5 500,0 560,15 630,55 565,60 600,110 650,118 600,145 625,190 650,260 610,330 610,390 660,440 730,475 845,515 860,580 880,650 885,720 888,810 905,810" vector-effect="non-scaling-stroke"/><polyline points="905,285 835,300 800,340 760,370 710,405 780,445 845,515" vector-effect="non-scaling-stroke"/><polyline points="898,720 898,810" vector-effect="non-scaling-stroke"/></g></g><g clip-path="url(#c24)"><g transform="translate(863,679) scale(0.166667)"><polyline points="50,-5 50,0 65,100 70,200 40,245 0,285 -10,288" vector-effect="non-scaling-stroke"/><polyline points="-10,810 25,810 40,740 15,680 15,600 25,520 60,475 100,455 160,430 220,415 280,430 340,440 400,465 455,477" vector-effect="non-scaling-stroke"/></g></g><g clip-path="url(#c25)"><g transform="translate(463,460) scale(0.166667)"></g></g><g clip-path="url(#c26)"><g transform="translate(600,690) scale(0.150000)"></g></g><g clip-path="url(#c27)"><g transform="translate(760,710) scale(0.088889)"></g></g></g>
<g stroke="#a8a8a8" stroke-width="1.6" stroke-dasharray="2 7.526" stroke-dashoffset="3.826" fill="none"><line x1="301.00" y1="79.30" x2="301.00" y2="820.40"/><line x1="358.86" y1="79.30" x2="358.86" y2="820.40"/><line x1="416.72" y1="79.30" x2="416.72" y2="820.40"/><line x1="474.58" y1="79.30" x2="474.58" y2="820.40"/><line x1="532.44" y1="79.30" x2="532.44" y2="820.40"/><line x1="590.31" y1="79.30" x2="590.31" y2="820.40"/><line x1="648.17" y1="79.30" x2="648.17" y2="820.40"/><line x1="706.03" y1="79.30" x2="706.03" y2="820.40"/><line x1="763.89" y1="79.30" x2="763.89" y2="820.40"/><line x1="821.75" y1="79.30" x2="821.75" y2="820.40"/><line x1="879.61" y1="79.30" x2="879.61" y2="820.40"/></g>
<g stroke="#a8a8a8" stroke-width="1.6" stroke-dasharray="2 7.8235" stroke-dashoffset="1" fill="none"><line x1="262.70" y1="797.90" x2="937.50" y2="797.90"/><line x1="262.70" y1="730.54" x2="937.50" y2="730.54"/><line x1="262.70" y1="663.18" x2="937.50" y2="663.18"/><line x1="262.70" y1="595.82" x2="937.50" y2="595.82"/><line x1="262.70" y1="528.46" x2="937.50" y2="528.46"/><line x1="262.70" y1="461.10" x2="937.50" y2="461.10"/><line x1="262.70" y1="393.75" x2="937.50" y2="393.75"/><line x1="262.70" y1="326.39" x2="937.50" y2="326.39"/><line x1="262.70" y1="259.03" x2="937.50" y2="259.03"/><line x1="262.70" y1="191.67" x2="937.50" y2="191.67"/><line x1="262.70" y1="124.31" x2="937.50" y2="124.31"/></g>
</g></g>
<rect x="262.7" y="79.3" width="674.80" height="741.10" fill="none" stroke="#000" stroke-width="1.5"/>
<g stroke="#000" stroke-width="1.4"><line x1="257.2" y1="797.90" x2="262.7" y2="797.90"/><line x1="257.2" y1="730.54" x2="262.7" y2="730.54"/><line x1="257.2" y1="663.18" x2="262.7" y2="663.18"/><line x1="257.2" y1="595.82" x2="262.7" y2="595.82"/><line x1="257.2" y1="528.46" x2="262.7" y2="528.46"/><line x1="257.2" y1="461.10" x2="262.7" y2="461.10"/><line x1="257.2" y1="393.75" x2="262.7" y2="393.75"/><line x1="257.2" y1="326.39" x2="262.7" y2="326.39"/><line x1="257.2" y1="259.03" x2="262.7" y2="259.03"/><line x1="257.2" y1="191.67" x2="262.7" y2="191.67"/><line x1="257.2" y1="124.31" x2="262.7" y2="124.31"/><line x1="301.00" y1="820.4" x2="301.00" y2="825.5"/><line x1="358.86" y1="820.4" x2="358.86" y2="825.5"/><line x1="416.72" y1="820.4" x2="416.72" y2="825.5"/><line x1="474.58" y1="820.4" x2="474.58" y2="825.5"/><line x1="532.44" y1="820.4" x2="532.44" y2="825.5"/><line x1="590.31" y1="820.4" x2="590.31" y2="825.5"/><line x1="648.17" y1="820.4" x2="648.17" y2="825.5"/><line x1="706.03" y1="820.4" x2="706.03" y2="825.5"/><line x1="763.89" y1="820.4" x2="763.89" y2="825.5"/><line x1="821.75" y1="820.4" x2="821.75" y2="825.5"/><line x1="879.61" y1="820.4" x2="879.61" y2="825.5"/></g>
<g font-family="Liberation Sans, sans-serif" fill="#000"><text x="253.28" y="804.00" text-anchor="end" font-size="16.9" textLength="33.20" lengthAdjust="spacingAndGlyphs">8.1N</text><text x="253.28" y="736.64" text-anchor="end" font-size="16.9" textLength="33.20" lengthAdjust="spacingAndGlyphs">8.4N</text><text x="253.28" y="669.28" text-anchor="end" font-size="16.9" textLength="33.20" lengthAdjust="spacingAndGlyphs">8.7N</text><text x="253.28" y="601.92" text-anchor="end" font-size="16.9" textLength="20.09" lengthAdjust="spacingAndGlyphs">9N</text><text x="253.28" y="534.56" text-anchor="end" font-size="16.9" textLength="33.20" lengthAdjust="spacingAndGlyphs">9.3N</text><text x="253.28" y="467.20" text-anchor="end" font-size="16.9" textLength="33.20" lengthAdjust="spacingAndGlyphs">9.6N</text><text x="253.28" y="399.85" text-anchor="end" font-size="16.9" textLength="33.20" lengthAdjust="spacingAndGlyphs">9.9N</text><text x="253.28" y="332.49" text-anchor="end" font-size="16.9" textLength="41.94" lengthAdjust="spacingAndGlyphs">10.2N</text><text x="253.28" y="265.13" text-anchor="end" font-size="16.9" textLength="41.94" lengthAdjust="spacingAndGlyphs">10.5N</text><text x="253.28" y="197.77" text-anchor="end" font-size="16.9" textLength="41.94" lengthAdjust="spacingAndGlyphs">10.8N</text><text x="253.28" y="130.41" text-anchor="end" font-size="16.9" textLength="41.94" lengthAdjust="spacingAndGlyphs">11.1N</text><text x="301.00" y="840.7" text-anchor="middle" font-size="17.5" textLength="43.24" lengthAdjust="spacingAndGlyphs">85.8W</text><text x="358.86" y="840.7" text-anchor="middle" font-size="17.5" textLength="43.24" lengthAdjust="spacingAndGlyphs">85.5W</text><text x="416.72" y="840.7" text-anchor="middle" font-size="17.5" textLength="43.24" lengthAdjust="spacingAndGlyphs">85.2W</text><text x="474.58" y="840.7" text-anchor="middle" font-size="17.5" textLength="43.24" lengthAdjust="spacingAndGlyphs">84.9W</text><text x="532.44" y="840.7" text-anchor="middle" font-size="17.5" textLength="43.24" lengthAdjust="spacingAndGlyphs">84.6W</text><text x="590.31" y="840.7" text-anchor="middle" font-size="17.5" textLength="43.24" lengthAdjust="spacingAndGlyphs">84.3W</text><text x="648.17" y="840.7" text-anchor="middle" font-size="17.5" textLength="30.77" lengthAdjust="spacingAndGlyphs">84W</text><text x="706.03" y="840.7" text-anchor="middle" font-size="17.5" textLength="43.24" lengthAdjust="spacingAndGlyphs">83.7W</text><text x="763.89" y="840.7" text-anchor="middle" font-size="17.5" textLength="43.24" lengthAdjust="spacingAndGlyphs">83.4W</text><text x="821.75" y="840.7" text-anchor="middle" font-size="17.5" textLength="43.24" lengthAdjust="spacingAndGlyphs">83.1W</text><text x="879.61" y="840.7" text-anchor="middle" font-size="17.5" textLength="43.24" lengthAdjust="spacingAndGlyphs">82.8W</text></g>
<g stroke="#000" stroke-width="1.5" stroke-linejoin="miter"><polygon points="1058.0,132.0 1068.7,89.3 1079.5,132.0" fill="#aaaaaa"/><rect x="1058.0" y="132.00" width="21.5" height="42.35" fill="#f2f2f2"/><rect x="1058.0" y="174.35" width="21.5" height="42.35" fill="#9933cc"/><rect x="1058.0" y="216.71" width="21.5" height="42.35" fill="#ff00ff"/><rect x="1058.0" y="259.06" width="21.5" height="42.35" fill="#960000"/><rect x="1058.0" y="301.41" width="21.5" height="42.35" fill="#cc3300"/><rect x="1058.0" y="343.77" width="21.5" height="42.35" fill="#ff0000"/><rect x="1058.0" y="386.12" width="21.5" height="42.35" fill="#ff6600"/><rect x="1058.0" y="428.47" width="21.5" height="42.35" fill="#ffcc00"/><rect x="1058.0" y="470.83" width="21.5" height="42.35" fill="#ffff00"/><rect x="1058.0" y="513.18" width="21.5" height="42.35" fill="#008c00"/><rect x="1058.0" y="555.53" width="21.5" height="42.35" fill="#00c000"/><rect x="1058.0" y="597.89" width="21.5" height="42.35" fill="#00ff00"/><rect x="1058.0" y="640.24" width="21.5" height="42.35" fill="#0000ff"/><rect x="1058.0" y="682.59" width="21.5" height="42.35" fill="#3c96ff"/><rect x="1058.0" y="724.95" width="21.5" height="42.35" fill="#66ffff"/><polygon points="1058.0,767.3 1068.6,810.3 1079.5,767.3" fill="#fff"/></g>
<g font-family="Liberation Sans, sans-serif" font-size="20.3" fill="#000" stroke="#fff" stroke-width="0.45"><text x="1085.39" y="139.70" textLength="36.92" lengthAdjust="spacingAndGlyphs">200</text><text x="1085.39" y="182.05" textLength="36.92" lengthAdjust="spacingAndGlyphs">150</text><text x="1085.39" y="224.41" textLength="36.92" lengthAdjust="spacingAndGlyphs">120</text><text x="1085.39" y="266.76" textLength="36.92" lengthAdjust="spacingAndGlyphs">100</text><text x="1085.39" y="309.11" textLength="24.61" lengthAdjust="spacingAndGlyphs">90</text><text x="1085.39" y="351.47" textLength="24.61" lengthAdjust="spacingAndGlyphs">75</text><text x="1085.39" y="393.82" textLength="24.61" lengthAdjust="spacingAndGlyphs">60</text><text x="1085.39" y="436.17" textLength="24.61" lengthAdjust="spacingAndGlyphs">50</text><text x="1085.39" y="478.53" textLength="24.61" lengthAdjust="spacingAndGlyphs">40</text><text x="1085.39" y="520.88" textLength="24.61" lengthAdjust="spacingAndGlyphs">30</text><text x="1085.39" y="563.23" textLength="24.61" lengthAdjust="spacingAndGlyphs">25</text><text x="1085.39" y="605.59" textLength="24.61" lengthAdjust="spacingAndGlyphs">20</text><text x="1085.39" y="647.94" textLength="24.61" lengthAdjust="spacingAndGlyphs">15</text><text x="1085.39" y="690.29" textLength="43.07" lengthAdjust="spacingAndGlyphs">12.5</text><text x="1085.39" y="732.65" textLength="12.31" lengthAdjust="spacingAndGlyphs">7</text><text x="1085.39" y="775.00" textLength="30.76" lengthAdjust="spacingAndGlyphs">3.5</text></g>
</svg>
</body></html>
